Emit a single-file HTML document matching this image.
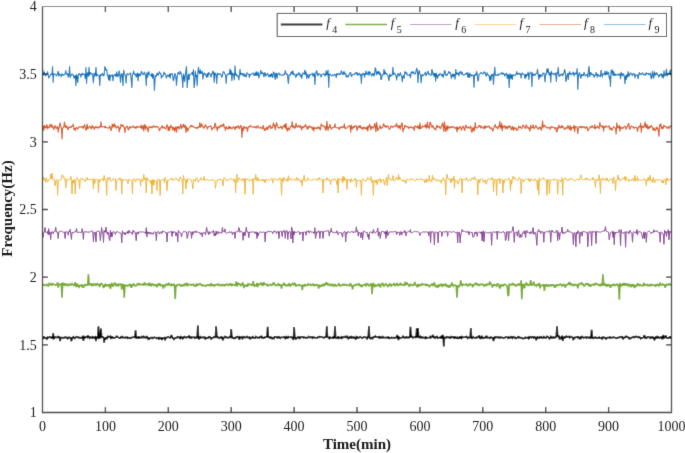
<!DOCTYPE html>
<html><head><meta charset="utf-8"><style>
html,body{margin:0;padding:0;background:#fff;}
body{width:685px;height:453px;overflow:hidden;position:relative;}
svg{position:absolute;left:0;top:0;}
text{font-family:"Liberation Serif",serif;font-size:14px;fill:#262626;}
.it{font-style:italic;font-size:13px;}
.sub{font-size:10px;}
.b{font-weight:bold;font-size:15px;fill:#1a1a1a;}
</style></head><body>
<svg width="685" height="453" viewBox="0 0 685 453">
<defs><filter id="bl" x="0" y="0" width="685" height="453" filterUnits="userSpaceOnUse"><feConvolveMatrix order="3" kernelMatrix="1 8 1 8 64 8 1 8 1" edgeMode="duplicate"/></filter>
<filter id="bt" x="0" y="0" width="685" height="453" filterUnits="userSpaceOnUse"><feConvolveMatrix order="3" kernelMatrix="1 10 1 10 100 10 1 10 1" edgeMode="none"/></filter></defs>
<g filter="url(#bl)">
<rect width="685" height="453" fill="#fff"/>
<g>
<path d="M42.50,338.17 43.13,338.45 43.76,336.37 44.39,337.34 45.02,338.06 45.65,338.25 46.27,337.98 46.90,338.82 47.53,337.35 48.16,337.79 48.79,337.55 49.42,336.94 50.05,337.05 50.68,337.60 51.31,337.32 51.94,338.15 52.56,338.30 53.19,333.20 53.82,338.54 54.45,338.11 55.08,337.10 55.71,337.50 56.34,337.51 56.97,337.53 57.60,336.65 58.23,336.59 58.85,337.51 59.48,337.18 60.11,341.20 60.74,337.78 61.37,337.68 62.00,337.67 62.63,337.81 63.26,337.74 63.89,337.98 64.52,337.30 65.14,337.32 65.77,337.20 66.40,337.75 67.03,337.50 67.66,338.62 68.29,338.39 68.92,337.44 69.55,337.45 70.18,337.79 70.81,338.35 71.43,341.20 72.06,337.83 72.69,337.50 73.32,336.85 73.95,337.85 74.58,338.85 75.21,337.45 75.84,337.39 76.47,336.71 77.09,336.75 77.72,337.26 78.35,337.75 78.98,337.33 79.61,337.67 80.24,337.99 80.87,337.64 81.50,337.87 82.13,338.15 82.76,335.74 83.38,341.00 84.01,336.67 84.64,336.63 85.27,337.59 85.90,337.19 86.53,336.95 87.16,337.38 87.79,335.31 88.42,337.77 89.05,337.10 89.67,338.09 90.30,337.02 90.93,337.27 91.56,337.37 92.19,338.00 92.82,336.83 93.45,337.28 94.08,338.00 94.71,337.18 95.34,336.88 95.97,341.00 96.59,337.43 97.22,337.83 97.85,337.12 98.48,326.20 99.11,338.23 99.74,337.97 100.37,337.12 101.00,328.60 101.63,337.06 102.25,336.66 102.88,336.96 103.51,337.46 104.14,342.60 104.77,337.72 105.40,339.82 106.03,337.67 106.66,337.51 107.29,338.22 107.92,336.44 108.55,336.50 109.17,337.19 109.80,336.71 110.43,336.15 111.06,338.27 111.69,337.76 112.32,336.33 112.95,337.89 113.58,337.92 114.21,338.14 114.83,337.70 115.46,337.47 116.09,336.98 116.72,335.79 117.35,337.21 117.98,337.27 118.61,337.42 119.24,338.03 119.87,338.03 120.50,338.05 121.12,336.69 121.75,336.55 122.38,337.55 123.01,337.27 123.64,337.67 124.27,337.68 124.90,337.66 125.53,337.13 126.16,337.85 126.79,337.71 127.42,337.20 128.04,338.28 128.67,337.73 129.30,338.06 129.93,337.80 130.56,338.32 131.19,337.66 131.82,337.62 132.45,337.54 133.08,337.13 133.70,337.17 134.33,337.39 134.96,337.38 135.59,330.20 136.22,338.51 136.85,337.75 137.48,337.44 138.11,338.62 138.74,336.33 139.37,337.87 140.00,337.85 140.62,337.35 141.25,337.55 141.88,336.67 142.51,337.43 143.14,337.57 143.77,336.50 144.40,337.40 145.03,337.25 145.66,337.90 146.28,337.59 146.91,336.01 147.54,337.25 148.17,338.92 148.80,338.33 149.43,338.89 150.06,337.87 150.69,337.63 151.32,337.85 151.95,337.61 152.57,338.88 153.20,337.77 153.83,337.53 154.46,337.18 155.09,337.64 155.72,338.00 156.35,337.74 156.98,338.34 157.61,337.98 158.24,337.66 158.87,339.41 159.49,337.19 160.12,338.17 160.75,338.51 161.38,337.55 162.01,339.98 162.64,338.09 163.27,338.33 163.90,338.03 164.53,337.77 165.16,340.32 165.78,337.68 166.41,337.48 167.04,337.41 167.67,337.46 168.30,336.87 168.93,337.18 169.56,337.42 170.19,337.79 170.82,336.85 171.44,334.96 172.07,336.89 172.70,338.18 173.33,338.35 173.96,339.30 174.59,338.42 175.22,338.15 175.85,337.95 176.48,337.39 177.11,337.60 177.74,336.88 178.36,337.31 178.99,337.04 179.62,338.14 180.25,338.52 180.88,336.90 181.51,337.58 182.14,337.50 182.77,339.16 183.40,337.30 184.03,337.58 184.65,336.81 185.28,337.33 185.91,337.70 186.54,337.73 187.17,336.82 187.80,336.92 188.43,337.15 189.06,335.55 189.69,337.78 190.31,337.44 190.94,337.01 191.57,337.99 192.20,337.58 192.83,337.28 193.46,337.08 194.09,337.24 194.72,338.28 195.35,338.04 195.98,337.28 196.60,336.97 197.23,338.28 197.86,325.50 198.49,338.22 199.12,339.34 199.75,337.49 200.38,336.80 201.01,337.68 201.64,337.41 202.27,337.57 202.90,337.22 203.52,337.19 204.15,337.70 204.78,337.34 205.41,339.59 206.04,337.64 206.67,337.70 207.30,338.15 207.93,338.14 208.56,336.91 209.19,337.25 209.81,336.87 210.44,337.76 211.07,339.58 211.70,337.85 212.33,337.94 212.96,337.76 213.59,337.05 214.22,337.27 214.85,336.99 215.47,337.68 216.10,326.20 216.73,336.03 217.36,337.44 217.99,337.34 218.62,337.32 219.25,338.17 219.88,337.53 220.51,337.54 221.14,337.07 221.77,338.18 222.39,337.72 223.02,340.38 223.65,337.46 224.28,337.39 224.91,336.53 225.54,336.81 226.17,337.62 226.80,337.31 227.43,337.69 228.06,337.68 228.68,337.69 229.31,337.14 229.94,337.47 230.57,336.68 231.20,329.00 231.83,338.19 232.46,337.17 233.09,338.19 233.72,338.49 234.34,337.33 234.97,338.83 235.60,336.89 236.23,337.65 236.86,337.55 237.49,336.65 238.12,337.21 238.75,337.21 239.38,339.70 240.01,336.98 240.63,337.39 241.26,337.23 241.89,338.06 242.52,338.72 243.15,336.79 243.78,337.11 244.41,337.02 245.04,337.71 245.67,337.41 246.30,337.37 246.93,336.48 247.55,336.77 248.18,337.78 248.81,337.54 249.44,337.28 250.07,338.57 250.70,337.65 251.33,338.15 251.96,337.86 252.59,336.24 253.22,337.45 253.84,337.93 254.47,338.14 255.10,338.02 255.73,336.60 256.36,337.16 256.99,337.35 257.62,337.79 258.25,337.67 258.88,337.47 259.50,337.83 260.13,337.00 260.76,337.11 261.39,335.81 262.02,337.79 262.65,337.45 263.28,338.10 263.91,338.03 264.54,337.07 265.17,337.43 265.79,337.02 266.42,336.90 267.05,336.84 267.68,326.70 268.31,336.98 268.94,336.85 269.57,338.00 270.20,338.01 270.83,337.14 271.46,337.86 272.09,338.63 272.71,337.80 273.34,337.66 273.97,338.42 274.60,336.99 275.23,336.75 275.86,336.74 276.49,337.43 277.12,337.86 277.75,337.06 278.38,336.80 279.00,338.23 279.63,337.38 280.26,338.15 280.89,337.48 281.52,337.42 282.15,337.47 282.78,337.48 283.41,337.00 284.04,337.02 284.66,336.43 285.29,339.17 285.92,338.15 286.55,336.81 287.18,337.52 287.81,338.01 288.44,336.79 289.07,337.18 289.70,337.25 290.33,337.02 290.96,337.14 291.58,337.72 292.21,337.36 292.84,337.50 293.47,340.11 294.10,327.00 294.73,336.89 295.36,337.85 295.99,339.45 296.62,337.77 297.25,337.62 297.87,336.88 298.50,337.49 299.13,338.26 299.76,337.21 300.39,337.94 301.02,337.19 301.65,336.86 302.28,336.88 302.91,336.94 303.54,337.70 304.16,337.15 304.79,337.28 305.42,337.86 306.05,337.88 306.68,337.61 307.31,337.74 307.94,337.42 308.57,336.57 309.20,337.33 309.82,337.27 310.45,337.32 311.08,336.95 311.71,337.32 312.34,338.05 312.97,336.69 313.60,337.59 314.23,337.66 314.86,337.48 315.49,337.75 316.12,337.94 316.74,337.81 317.37,337.90 318.00,336.98 318.63,337.15 319.26,337.35 319.89,336.54 320.52,336.90 321.15,336.84 321.78,337.04 322.41,337.05 323.03,337.43 323.66,337.80 324.29,337.91 324.92,337.02 325.55,336.97 326.18,337.40 326.81,326.20 327.44,337.09 328.07,337.33 328.69,337.88 329.32,338.57 329.95,337.11 330.58,337.42 331.21,338.02 331.84,337.86 332.47,337.74 333.10,336.67 333.73,338.10 334.36,337.81 334.99,326.20 335.61,337.42 336.24,338.15 336.87,337.86 337.50,337.90 338.13,336.39 338.76,338.19 339.39,337.53 340.02,337.95 340.65,338.07 341.27,337.14 341.90,338.08 342.53,337.10 343.16,337.08 343.79,337.44 344.42,336.72 345.05,336.54 345.68,337.31 346.31,337.27 346.94,336.48 347.56,337.86 348.19,338.59 348.82,337.58 349.45,338.66 350.08,336.96 350.71,337.30 351.34,336.09 351.97,337.85 352.60,337.55 353.23,337.86 353.86,337.14 354.48,337.63 355.11,337.90 355.74,339.67 356.37,336.61 357.00,336.89 357.63,337.84 358.26,337.64 358.89,337.81 359.52,337.08 360.14,336.71 360.77,337.36 361.40,337.54 362.03,338.09 362.66,338.14 363.29,337.29 363.92,337.15 364.55,337.08 365.18,337.16 365.81,337.24 366.44,338.17 367.06,338.69 367.69,336.86 368.32,336.86 368.95,326.20 369.58,338.69 370.21,337.93 370.84,338.57 371.47,337.68 372.10,337.54 372.73,338.41 373.35,337.39 373.98,336.92 374.61,337.08 375.24,336.23 375.87,337.02 376.50,336.95 377.13,336.93 377.76,336.81 378.39,337.38 379.01,336.82 379.64,338.31 380.27,336.21 380.90,337.68 381.53,337.45 382.16,337.67 382.79,336.77 383.42,337.61 384.05,337.60 384.68,337.60 385.31,337.62 385.93,337.64 386.56,337.45 387.19,337.48 387.82,337.90 388.45,336.72 389.08,337.86 389.71,338.32 390.34,337.85 390.97,338.01 391.60,337.39 392.22,337.64 392.85,337.78 393.48,337.68 394.11,337.83 394.74,338.19 395.37,337.40 396.00,337.18 396.63,337.53 397.26,334.99 397.88,337.48 398.51,340.03 399.14,337.29 399.77,337.79 400.40,337.79 401.03,338.13 401.66,337.83 402.29,337.43 402.92,335.88 403.55,337.09 404.18,337.80 404.80,337.42 405.43,337.18 406.06,337.83 406.69,337.10 407.32,337.31 407.95,337.76 408.58,337.29 409.21,337.53 409.84,337.41 410.46,326.70 411.09,337.13 411.72,335.71 412.35,337.20 412.98,337.95 413.61,337.46 414.24,336.90 414.87,336.74 415.50,337.30 416.13,338.05 416.75,328.00 417.38,337.83 418.01,328.00 418.64,337.18 419.27,336.98 419.90,338.24 420.53,336.72 421.16,337.51 421.79,336.93 422.42,337.78 423.05,337.32 423.67,337.46 424.30,337.90 424.93,338.27 425.56,336.40 426.19,338.21 426.82,337.74 427.45,337.86 428.08,337.72 428.71,337.56 429.33,337.33 429.96,337.72 430.59,336.57 431.22,337.53 431.85,337.37 432.48,335.92 433.11,334.86 433.74,337.51 434.37,337.55 435.00,337.93 435.62,336.40 436.25,337.50 436.88,336.02 437.51,338.19 438.14,337.86 438.77,337.53 439.40,337.51 440.03,337.83 440.66,336.78 441.29,336.36 441.92,338.66 442.54,335.58 443.17,335.56 443.80,346.50 444.43,337.77 445.06,337.33 445.69,337.70 446.32,337.59 446.95,336.94 447.58,337.36 448.20,337.56 448.83,337.10 449.46,337.92 450.09,337.45 450.72,337.94 451.35,336.60 451.98,336.79 452.61,336.80 453.24,337.68 453.87,338.07 454.50,336.15 455.12,338.32 455.75,337.41 456.38,337.86 457.01,337.38 457.64,338.80 458.27,337.70 458.90,337.71 459.53,338.04 460.16,336.34 460.79,337.96 461.41,338.43 462.04,336.69 462.67,337.20 463.30,337.38 463.93,337.28 464.56,337.06 465.19,337.30 465.82,337.21 466.45,336.60 467.07,337.36 467.70,338.31 468.33,337.42 468.96,337.73 469.59,337.76 470.22,337.64 470.85,328.00 471.48,337.42 472.11,338.28 472.74,337.94 473.37,336.90 473.99,337.37 474.62,337.75 475.25,338.11 475.88,337.86 476.51,337.12 477.14,337.68 477.77,337.19 478.40,337.05 479.03,335.16 479.66,338.22 480.28,338.46 480.91,337.65 481.54,335.73 482.17,338.04 482.80,337.49 483.43,338.23 484.06,338.04 484.69,337.46 485.32,337.63 485.94,336.62 486.57,337.56 487.20,336.68 487.83,337.62 488.46,337.70 489.09,337.89 489.72,338.31 490.35,337.19 490.98,337.62 491.61,337.39 492.24,337.87 492.86,337.71 493.49,341.00 494.12,338.40 494.75,337.16 495.38,337.59 496.01,336.87 496.64,337.35 497.27,337.33 497.90,337.63 498.52,337.00 499.15,337.65 499.78,337.48 500.41,337.94 501.04,337.27 501.67,337.46 502.30,337.55 502.93,337.73 503.56,338.15 504.19,337.66 504.81,337.72 505.44,337.47 506.07,336.92 506.70,337.25 507.33,337.24 507.96,338.12 508.59,337.19 509.22,337.92 509.85,337.40 510.48,337.72 511.11,336.70 511.73,337.20 512.36,338.10 512.99,337.00 513.62,336.72 514.25,337.49 514.88,337.90 515.51,337.56 516.14,338.76 516.77,337.68 517.39,337.40 518.02,336.82 518.65,338.03 519.28,336.69 519.91,337.67 520.54,337.93 521.17,337.74 521.80,337.96 522.43,338.37 523.06,338.63 523.68,338.41 524.31,338.48 524.94,338.06 525.57,336.86 526.20,337.90 526.83,337.98 527.46,337.99 528.09,337.25 528.72,338.69 529.35,338.25 529.98,336.72 530.60,336.89 531.23,337.56 531.86,337.06 532.49,336.69 533.12,337.24 533.75,338.53 534.38,336.94 535.01,337.29 535.64,337.65 536.26,340.35 536.89,337.32 537.52,337.04 538.15,337.90 538.78,337.52 539.41,338.05 540.04,337.02 540.67,337.44 541.30,336.88 541.93,337.55 542.56,338.63 543.18,337.35 543.81,336.55 544.44,336.98 545.07,337.87 545.70,337.99 546.33,337.78 546.96,336.39 547.59,336.77 548.22,337.15 548.85,337.70 549.47,338.68 550.10,337.79 550.73,336.40 551.36,337.05 551.99,338.08 552.62,338.01 553.25,336.99 553.88,337.57 554.51,337.93 555.13,337.15 555.76,337.32 556.39,335.41 557.02,326.20 557.65,336.90 558.28,336.42 558.91,335.57 559.54,339.36 560.17,338.11 560.80,338.82 561.42,336.88 562.05,336.42 562.68,341.00 563.31,337.50 563.94,337.18 564.57,338.41 565.20,337.03 565.83,336.48 566.46,336.18 567.09,337.18 567.72,337.18 568.34,336.75 568.97,336.49 569.60,337.59 570.23,336.63 570.86,337.09 571.49,336.69 572.12,337.23 572.75,338.06 573.38,340.13 574.00,337.08 574.63,337.89 575.26,337.81 575.89,337.24 576.52,336.89 577.15,336.83 577.78,337.54 578.41,336.97 579.04,337.69 579.67,339.19 580.29,337.51 580.92,338.17 581.55,336.76 582.18,336.53 582.81,337.03 583.44,337.96 584.07,337.76 584.70,337.44 585.33,337.14 585.96,337.05 586.59,337.97 587.21,337.22 587.84,337.16 588.47,337.67 589.10,337.80 589.73,337.41 590.36,338.17 590.99,337.84 591.62,329.90 592.25,336.43 592.88,338.88 593.50,337.49 594.13,337.65 594.76,337.80 595.39,337.14 596.02,337.71 596.65,338.05 597.28,337.68 597.91,338.21 598.54,337.57 599.16,337.15 599.79,338.10 600.42,338.09 601.05,337.93 601.68,337.57 602.31,339.55 602.94,337.32 603.57,337.09 604.20,337.37 604.83,337.63 605.46,337.89 606.08,339.39 606.71,337.97 607.34,337.65 607.97,337.38 608.60,337.80 609.23,337.88 609.86,337.19 610.49,337.20 611.12,338.06 611.75,337.93 612.37,337.75 613.00,337.22 613.63,337.03 614.26,337.46 614.89,337.69 615.52,337.82 616.15,337.96 616.78,338.32 617.41,338.09 618.03,337.44 618.66,337.66 619.29,337.46 619.92,336.75 620.55,336.75 621.18,337.19 621.81,336.27 622.44,337.75 623.07,338.70 623.70,337.55 624.33,337.37 624.95,337.56 625.58,336.93 626.21,335.83 626.84,337.14 627.47,337.43 628.10,337.14 628.73,337.37 629.36,338.71 629.99,338.28 630.62,338.58 631.24,337.98 631.87,337.37 632.50,337.10 633.13,337.32 633.76,336.66 634.39,337.40 635.02,337.15 635.65,336.64 636.28,336.49 636.90,336.92 637.53,337.24 638.16,336.83 638.79,337.33 639.42,336.85 640.05,337.76 640.68,338.58 641.31,337.85 641.94,337.91 642.57,337.91 643.20,337.40 643.82,336.78 644.45,335.08 645.08,337.78 645.71,337.50 646.34,338.18 646.97,337.59 647.60,336.93 648.23,336.88 648.86,336.98 649.49,337.71 650.11,337.28 650.74,338.01 651.37,337.13 652.00,337.14 652.63,338.26 653.26,336.77 653.89,338.67 654.52,340.25 655.15,337.75 655.77,337.12 656.40,338.43 657.03,336.61 657.66,336.61 658.29,337.79 658.92,337.33 659.55,337.98 660.18,337.81 660.81,337.07 661.44,337.09 662.07,339.32 662.69,337.24 663.32,335.00 663.95,338.13 664.58,337.69 665.21,337.16 665.84,335.48 666.47,337.81 667.10,338.17 667.73,338.05 668.36,338.08 668.98,337.54 669.61,337.68 670.24,336.33 670.87,337.82 671.50,337.54" fill="none" stroke="#000000" stroke-width="1.7" stroke-linejoin="miter" stroke-miterlimit="2"/><path d="M42.50,284.71 43.13,284.49 43.76,284.67 44.39,285.24 45.02,285.45 45.65,285.02 46.27,284.49 46.90,284.41 47.53,285.45 48.16,286.03 48.79,285.47 49.42,282.82 50.05,284.32 50.68,284.59 51.31,285.02 51.94,283.80 52.56,284.61 53.19,284.10 53.82,284.37 54.45,284.48 55.08,284.68 55.71,285.19 56.34,284.86 56.97,284.55 57.60,282.18 58.23,287.53 58.85,285.29 59.48,284.53 60.11,284.24 60.74,284.30 61.37,284.06 62.00,297.70 62.63,282.47 63.26,284.62 63.89,284.17 64.52,285.85 65.14,284.06 65.77,283.96 66.40,284.85 67.03,285.29 67.66,284.65 68.29,285.29 68.92,283.70 69.55,285.43 70.18,283.78 70.81,285.02 71.43,284.77 72.06,283.61 72.69,284.60 73.32,284.79 73.95,285.40 74.58,284.58 75.21,282.19 75.84,286.03 76.47,286.43 77.09,283.64 77.72,284.68 78.35,286.56 78.98,287.17 79.61,285.57 80.24,285.56 80.87,285.46 81.50,284.57 82.13,286.37 82.76,285.73 83.38,287.77 84.01,285.66 84.64,284.95 85.27,285.26 85.90,284.70 86.53,285.19 87.16,285.05 87.79,284.92 88.42,274.30 89.05,285.30 89.67,284.04 90.30,283.92 90.93,284.06 91.56,285.39 92.19,284.67 92.82,284.16 93.45,285.88 94.08,284.38 94.71,284.16 95.34,284.05 95.97,285.10 96.59,284.16 97.22,283.77 97.85,284.83 98.48,284.61 99.11,284.94 99.74,287.09 100.37,283.78 101.00,283.91 101.63,283.61 102.25,284.59 102.88,285.33 103.51,287.93 104.14,286.64 104.77,284.50 105.40,284.37 106.03,286.43 106.66,284.93 107.29,284.68 107.92,285.09 108.55,286.06 109.17,285.23 109.80,284.07 110.43,288.91 111.06,285.19 111.69,283.06 112.32,285.41 112.95,286.69 113.58,284.46 114.21,284.37 114.83,282.44 115.46,284.94 116.09,285.56 116.72,283.95 117.35,285.29 117.98,285.82 118.61,284.29 119.24,284.94 119.87,284.64 120.50,284.12 121.12,284.16 121.75,289.50 122.38,285.75 123.01,284.60 123.64,284.95 124.27,297.70 124.90,285.22 125.53,285.52 126.16,285.30 126.79,285.40 127.42,286.16 128.04,285.70 128.67,285.09 129.30,285.29 129.93,284.34 130.56,284.67 131.19,287.85 131.82,285.49 132.45,285.94 133.08,284.56 133.70,283.93 134.33,284.92 134.96,285.67 135.59,285.81 136.22,285.70 136.85,284.89 137.48,283.71 138.11,284.44 138.74,284.67 139.37,283.22 140.00,284.50 140.62,284.65 141.25,284.58 141.88,284.56 142.51,284.30 143.14,284.67 143.77,285.66 144.40,282.33 145.03,284.26 145.66,284.10 146.28,284.83 146.91,284.41 147.54,284.31 148.17,283.93 148.80,286.13 149.43,282.56 150.06,284.42 150.69,285.51 151.32,285.64 151.95,283.43 152.57,284.33 153.20,284.66 153.83,285.49 154.46,284.86 155.09,284.74 155.72,284.99 156.35,286.25 156.98,286.96 157.61,284.34 158.24,284.48 158.87,285.70 159.49,283.12 160.12,284.41 160.75,285.61 161.38,285.29 162.01,285.63 162.64,285.16 163.27,288.50 163.90,285.17 164.53,285.25 165.16,286.12 165.78,284.93 166.41,283.96 167.04,284.24 167.67,285.70 168.30,284.50 168.93,283.46 169.56,284.36 170.19,285.22 170.82,285.58 171.44,284.40 172.07,285.31 172.70,285.26 173.33,284.50 173.96,284.28 174.59,286.16 175.22,298.90 175.85,285.61 176.48,285.27 177.11,285.64 177.74,284.89 178.36,284.76 178.99,284.34 179.62,284.83 180.25,285.07 180.88,286.43 181.51,285.10 182.14,285.80 182.77,285.83 183.40,284.98 184.03,285.46 184.65,283.61 185.28,284.86 185.91,285.26 186.54,282.75 187.17,284.05 187.80,285.46 188.43,284.73 189.06,284.31 189.69,284.53 190.31,284.58 190.94,285.36 191.57,285.23 192.20,284.63 192.83,284.45 193.46,284.31 194.09,285.77 194.72,285.28 195.35,285.32 195.98,286.59 196.60,284.00 197.23,284.39 197.86,285.27 198.49,284.95 199.12,284.20 199.75,283.80 200.38,284.00 201.01,284.72 201.64,284.62 202.27,285.64 202.90,285.08 203.52,285.19 204.15,285.61 204.78,285.68 205.41,285.89 206.04,286.19 206.67,285.11 207.30,284.88 207.93,285.19 208.56,284.78 209.19,285.32 209.81,285.68 210.44,284.30 211.07,283.80 211.70,285.52 212.33,285.06 212.96,285.25 213.59,284.24 214.22,285.96 214.85,285.50 215.47,284.85 216.10,284.67 216.73,284.93 217.36,284.78 217.99,284.04 218.62,284.26 219.25,285.62 219.88,284.98 220.51,284.95 221.14,284.78 221.77,285.62 222.39,285.02 223.02,284.71 223.65,284.79 224.28,286.01 224.91,284.35 225.54,285.31 226.17,284.45 226.80,284.20 227.43,284.29 228.06,284.99 228.68,285.34 229.31,284.46 229.94,283.97 230.57,285.37 231.20,284.38 231.83,285.58 232.46,284.90 233.09,284.40 233.72,284.47 234.34,285.22 234.97,285.49 235.60,284.92 236.23,281.50 236.86,286.29 237.49,284.84 238.12,283.27 238.75,284.02 239.38,283.87 240.01,284.32 240.63,286.10 241.26,284.04 241.89,284.92 242.52,283.17 243.15,283.58 243.78,288.09 244.41,285.77 245.04,285.35 245.67,285.38 246.30,286.11 246.93,285.39 247.55,286.71 248.18,284.11 248.81,284.70 249.44,284.37 250.07,284.33 250.70,284.38 251.33,285.13 251.96,284.76 252.59,285.93 253.22,281.11 253.84,284.83 254.47,286.08 255.10,285.17 255.73,285.76 256.36,285.83 256.99,282.89 257.62,287.10 258.25,283.62 258.88,284.59 259.50,284.51 260.13,283.84 260.76,284.38 261.39,282.42 262.02,283.75 262.65,285.80 263.28,284.83 263.91,282.20 264.54,284.19 265.17,284.45 265.79,284.57 266.42,284.44 267.05,284.18 267.68,286.28 268.31,285.15 268.94,285.29 269.57,285.12 270.20,284.45 270.83,284.49 271.46,285.11 272.09,284.81 272.71,284.66 273.34,283.09 273.97,283.00 274.60,284.27 275.23,285.25 275.86,285.00 276.49,285.49 277.12,285.10 277.75,284.81 278.38,284.06 279.00,285.30 279.63,284.62 280.26,284.88 280.89,285.09 281.52,288.50 282.15,285.03 282.78,284.63 283.41,284.54 284.04,282.77 284.66,284.72 285.29,285.91 285.92,284.90 286.55,285.70 287.18,285.58 287.81,284.68 288.44,286.08 289.07,283.27 289.70,285.18 290.33,285.89 290.96,284.58 291.58,284.76 292.21,284.48 292.84,283.48 293.47,284.36 294.10,285.18 294.73,283.42 295.36,284.03 295.99,286.00 296.62,285.71 297.25,285.35 297.87,285.25 298.50,284.70 299.13,285.33 299.76,285.42 300.39,285.16 301.02,285.59 301.65,285.07 302.28,290.20 302.91,284.83 303.54,285.71 304.16,285.88 304.79,284.67 305.42,284.67 306.05,285.72 306.68,285.52 307.31,285.30 307.94,284.09 308.57,284.51 309.20,284.56 309.82,284.86 310.45,283.94 311.08,285.29 311.71,285.23 312.34,285.11 312.97,284.17 313.60,284.90 314.23,285.63 314.86,284.81 315.49,285.03 316.12,285.32 316.74,284.58 317.37,285.34 318.00,285.67 318.63,288.50 319.26,285.35 319.89,285.25 320.52,286.27 321.15,285.70 321.78,286.06 322.41,284.75 323.03,284.46 323.66,285.46 324.29,285.57 324.92,283.53 325.55,285.19 326.18,282.11 326.81,284.86 327.44,282.69 328.07,284.99 328.69,284.56 329.32,284.46 329.95,285.03 330.58,285.99 331.21,284.35 331.84,284.52 332.47,285.50 333.10,284.86 333.73,286.02 334.36,285.19 334.99,284.12 335.61,285.27 336.24,286.10 336.87,285.60 337.50,285.30 338.13,284.98 338.76,283.85 339.39,284.33 340.02,285.84 340.65,285.59 341.27,285.34 341.90,285.30 342.53,284.63 343.16,285.00 343.79,284.38 344.42,285.02 345.05,284.46 345.68,284.74 346.31,285.15 346.94,284.78 347.56,285.32 348.19,285.27 348.82,285.27 349.45,285.66 350.08,283.93 350.71,283.81 351.34,285.66 351.97,285.71 352.60,289.32 353.23,285.61 353.86,285.42 354.48,285.34 355.11,284.90 355.74,285.16 356.37,284.21 357.00,284.23 357.63,284.78 358.26,284.88 358.89,283.96 359.52,284.73 360.14,286.26 360.77,284.34 361.40,287.16 362.03,285.13 362.66,285.86 363.29,285.07 363.92,284.70 364.55,284.29 365.18,285.08 365.81,285.75 366.44,283.95 367.06,283.59 367.69,283.87 368.32,286.01 368.95,284.89 369.58,286.10 370.21,284.32 370.84,284.07 371.47,283.54 372.10,294.20 372.73,284.90 373.35,283.57 373.98,284.33 374.61,287.33 375.24,285.07 375.87,284.90 376.50,285.63 377.13,285.95 377.76,285.80 378.39,283.72 379.01,284.78 379.64,284.54 380.27,287.40 380.90,285.80 381.53,284.78 382.16,283.49 382.79,283.61 383.42,285.25 384.05,286.56 384.68,284.70 385.31,284.47 385.93,283.79 386.56,284.60 387.19,285.72 387.82,286.98 388.45,285.05 389.08,284.77 389.71,284.02 390.34,285.73 390.97,286.04 391.60,284.67 392.22,285.04 392.85,284.94 393.48,284.34 394.11,283.23 394.74,284.51 395.37,286.16 396.00,283.96 396.63,284.81 397.26,282.83 397.88,285.50 398.51,285.33 399.14,284.95 399.77,284.68 400.40,282.79 401.03,284.77 401.66,284.68 402.29,284.71 402.92,284.87 403.55,285.10 404.18,285.79 404.80,282.85 405.43,281.90 406.06,284.43 406.69,283.93 407.32,283.34 407.95,285.02 408.58,284.25 409.21,286.92 409.84,285.05 410.46,284.20 411.09,284.82 411.72,284.91 412.35,285.48 412.98,285.53 413.61,284.49 414.24,284.40 414.87,281.91 415.50,284.95 416.13,285.42 416.75,285.27 417.38,287.20 418.01,285.06 418.64,285.64 419.27,284.16 419.90,286.11 420.53,284.60 421.16,285.62 421.79,283.57 422.42,284.37 423.05,284.09 423.67,284.45 424.30,284.75 424.93,284.44 425.56,284.26 426.19,285.81 426.82,284.10 427.45,285.32 428.08,285.10 428.71,285.26 429.33,286.58 429.96,285.89 430.59,285.39 431.22,284.86 431.85,283.59 432.48,285.16 433.11,284.50 433.74,284.96 434.37,282.49 435.00,285.68 435.62,286.36 436.25,287.30 436.88,285.77 437.51,284.89 438.14,286.99 438.77,286.44 439.40,284.20 440.03,286.03 440.66,284.50 441.29,284.16 441.92,286.01 442.54,286.33 443.17,284.57 443.80,284.66 444.43,285.37 445.06,285.06 445.69,283.59 446.32,286.03 446.95,286.19 447.58,285.54 448.20,286.65 448.83,286.40 449.46,287.76 450.09,284.61 450.72,285.64 451.35,284.97 451.98,282.51 452.61,284.92 453.24,286.06 453.87,285.39 454.50,284.99 455.12,285.01 455.75,285.45 456.38,286.87 457.01,297.70 457.64,285.09 458.27,286.07 458.90,287.15 459.53,285.94 460.16,284.24 460.79,280.48 461.41,284.36 462.04,286.03 462.67,284.92 463.30,284.30 463.93,284.45 464.56,284.77 465.19,284.79 465.82,284.60 466.45,283.99 467.07,285.37 467.70,285.89 468.33,285.71 468.96,284.60 469.59,285.50 470.22,284.01 470.85,284.65 471.48,284.62 472.11,284.72 472.74,287.33 473.37,284.30 473.99,284.93 474.62,284.03 475.25,283.53 475.88,283.23 476.51,285.08 477.14,283.88 477.77,284.00 478.40,285.43 479.03,285.46 479.66,284.81 480.28,284.54 480.91,284.86 481.54,284.42 482.17,284.02 482.80,284.56 483.43,284.57 484.06,286.02 484.69,285.34 485.32,284.69 485.94,285.24 486.57,285.61 487.20,284.04 487.83,284.32 488.46,284.17 489.09,284.95 489.72,282.26 490.35,282.55 490.98,284.39 491.61,284.60 492.24,287.42 492.86,285.72 493.49,285.46 494.12,284.12 494.75,285.22 495.38,285.15 496.01,285.58 496.64,286.09 497.27,283.38 497.90,284.26 498.52,284.32 499.15,285.72 499.78,288.50 500.41,287.21 501.04,284.83 501.67,284.88 502.30,285.16 502.93,285.99 503.56,285.20 504.19,284.27 504.81,284.62 505.44,284.63 506.07,285.11 506.70,285.79 507.33,286.33 507.96,296.00 508.59,295.40 509.22,283.74 509.85,284.96 510.48,284.71 511.11,284.74 511.73,284.88 512.36,283.55 512.99,283.71 513.62,285.22 514.25,284.36 514.88,285.17 515.51,284.84 516.14,286.09 516.77,285.43 517.39,285.00 518.02,284.46 518.65,283.55 519.28,285.43 519.91,284.66 520.54,285.23 521.17,280.40 521.80,299.20 522.43,286.10 523.06,283.92 523.68,284.71 524.31,288.25 524.94,285.60 525.57,284.10 526.20,283.06 526.83,283.59 527.46,285.66 528.09,284.89 528.72,285.17 529.35,285.17 529.98,285.06 530.60,280.16 531.23,283.67 531.86,284.91 532.49,284.37 533.12,284.07 533.75,281.77 534.38,285.18 535.01,285.06 535.64,285.09 536.26,285.99 536.89,284.77 537.52,284.62 538.15,285.66 538.78,284.23 539.41,283.09 540.04,288.29 540.67,285.34 541.30,285.44 541.93,285.50 542.56,285.57 543.18,284.74 543.81,284.81 544.44,291.00 545.07,285.00 545.70,285.11 546.33,284.77 546.96,285.77 547.59,286.84 548.22,284.56 548.85,285.60 549.47,285.75 550.10,285.69 550.73,284.40 551.36,285.75 551.99,285.51 552.62,284.79 553.25,285.14 553.88,285.21 554.51,287.60 555.13,285.84 555.76,286.52 556.39,285.02 557.02,285.35 557.65,284.86 558.28,285.50 558.91,285.12 559.54,284.55 560.17,284.07 560.80,284.45 561.42,285.24 562.05,286.05 562.68,285.54 563.31,284.31 563.94,284.62 564.57,284.99 565.20,287.48 565.83,284.36 566.46,285.51 567.09,284.62 567.72,284.39 568.34,283.65 568.97,284.45 569.60,282.01 570.23,284.73 570.86,285.02 571.49,284.09 572.12,284.70 572.75,284.83 573.38,286.13 574.00,285.19 574.63,283.75 575.26,285.05 575.89,285.16 576.52,284.75 577.15,285.13 577.78,288.27 578.41,285.37 579.04,283.92 579.67,284.23 580.29,284.04 580.92,283.72 581.55,282.21 582.18,284.28 582.81,284.08 583.44,284.68 584.07,286.42 584.70,285.27 585.33,285.02 585.96,283.17 586.59,284.03 587.21,284.30 587.84,283.35 588.47,285.16 589.10,284.59 589.73,284.81 590.36,286.84 590.99,285.23 591.62,284.92 592.25,285.01 592.88,284.59 593.50,284.23 594.13,284.69 594.76,285.49 595.39,283.06 596.02,283.80 596.65,283.81 597.28,284.05 597.91,284.77 598.54,284.65 599.16,285.25 599.79,285.60 600.42,283.77 601.05,285.37 601.68,285.16 602.31,285.17 602.94,274.40 603.57,284.75 604.20,284.94 604.83,284.07 605.46,285.24 606.08,284.82 606.71,285.98 607.34,285.04 607.97,286.25 608.60,284.86 609.23,284.76 609.86,285.97 610.49,287.69 611.12,285.46 611.75,284.69 612.37,284.99 613.00,285.50 613.63,284.40 614.26,284.39 614.89,285.43 615.52,285.41 616.15,284.78 616.78,284.55 617.41,283.72 618.03,285.48 618.66,284.80 619.29,299.70 619.92,283.99 620.55,284.37 621.18,286.42 621.81,285.37 622.44,284.24 623.07,283.08 623.70,285.82 624.33,284.05 624.95,283.19 625.58,285.80 626.21,284.03 626.84,284.72 627.47,284.33 628.10,285.78 628.73,286.19 629.36,283.81 629.99,284.89 630.62,285.11 631.24,287.27 631.87,284.04 632.50,285.54 633.13,284.82 633.76,285.05 634.39,288.08 635.02,285.58 635.65,285.89 636.28,286.79 636.90,284.78 637.53,283.97 638.16,284.87 638.79,284.57 639.42,285.35 640.05,284.48 640.68,285.01 641.31,285.61 641.94,285.66 642.57,285.24 643.20,285.94 643.82,283.59 644.45,283.96 645.08,285.38 645.71,285.04 646.34,284.70 646.97,284.50 647.60,285.61 648.23,285.20 648.86,284.86 649.49,285.90 650.11,285.63 650.74,284.57 651.37,284.46 652.00,285.36 652.63,285.00 653.26,285.02 653.89,285.33 654.52,285.67 655.15,285.09 655.77,285.98 656.40,284.81 657.03,285.27 657.66,284.58 658.29,285.01 658.92,285.75 659.55,283.98 660.18,283.27 660.81,284.85 661.44,284.89 662.07,285.00 662.69,284.03 663.32,284.70 663.95,285.20 664.58,285.08 665.21,287.69 665.84,285.03 666.47,284.47 667.10,284.96 667.73,284.59 668.36,284.87 668.98,283.92 669.61,284.05 670.24,284.88 670.87,284.55 671.50,284.44" fill="none" stroke="#77AC30" stroke-width="1.7" stroke-linejoin="miter" stroke-miterlimit="2"/><path d="M42.50,231.90 43.13,237.39 43.76,232.43 44.39,232.20 45.02,227.58 45.65,231.61 46.27,232.84 46.90,231.71 47.53,231.52 48.16,234.69 48.79,228.65 49.42,234.36 50.05,232.33 50.68,239.50 51.31,231.84 51.94,232.30 52.56,231.78 53.19,233.76 53.82,231.72 54.45,231.59 55.08,231.55 55.71,227.00 56.34,232.06 56.97,232.06 57.60,232.19 58.23,238.50 58.85,231.74 59.48,231.52 60.11,231.30 60.74,231.34 61.37,231.12 62.00,231.68 62.63,231.90 63.26,232.20 63.89,232.33 64.52,231.95 65.14,238.50 65.77,231.78 66.40,231.69 67.03,231.92 67.66,232.22 68.29,235.21 68.92,231.09 69.55,231.59 70.18,229.36 70.81,234.08 71.43,239.50 72.06,232.16 72.69,232.51 73.32,232.95 73.95,231.99 74.58,231.88 75.21,231.69 75.84,231.83 76.47,228.39 77.09,232.12 77.72,233.10 78.35,232.25 78.98,232.10 79.61,232.30 80.24,232.46 80.87,232.54 81.50,232.42 82.13,228.61 82.76,232.08 83.38,239.50 84.01,231.86 84.64,231.24 85.27,231.83 85.90,231.89 86.53,231.83 87.16,232.14 87.79,232.04 88.42,232.43 89.05,231.56 89.67,232.28 90.30,231.70 90.93,231.45 91.56,230.97 92.19,230.94 92.82,231.30 93.45,242.00 94.08,232.00 94.71,232.81 95.34,232.23 95.97,242.00 96.59,231.74 97.22,231.58 97.85,231.15 98.48,231.06 99.11,231.20 99.74,233.03 100.37,240.70 101.00,233.14 101.63,227.37 102.25,232.71 102.88,232.40 103.51,242.60 104.14,230.43 104.77,232.14 105.40,232.07 106.03,227.00 106.66,232.44 107.29,234.34 107.92,231.90 108.55,232.33 109.17,238.95 109.80,240.70 110.43,230.20 111.06,237.10 111.69,232.21 112.32,236.48 112.95,232.21 113.58,231.26 114.21,232.40 114.83,233.24 115.46,234.42 116.09,231.75 116.72,231.86 117.35,231.70 117.98,232.27 118.61,232.26 119.24,232.65 119.87,233.07 120.50,233.12 121.12,233.46 121.75,243.00 122.38,230.71 123.01,232.75 123.64,232.93 124.27,234.42 124.90,232.51 125.53,234.97 126.16,232.39 126.79,232.09 127.42,231.42 128.04,233.94 128.67,230.99 129.30,230.14 129.93,232.83 130.56,232.12 131.19,232.72 131.82,232.42 132.45,234.80 133.08,230.10 133.70,231.86 134.33,231.69 134.96,231.82 135.59,235.67 136.22,240.70 136.85,232.29 137.48,232.01 138.11,234.20 138.74,231.83 139.37,231.94 140.00,232.02 140.62,232.04 141.25,231.98 141.88,231.92 142.51,231.74 143.14,232.40 143.77,231.93 144.40,232.36 145.03,232.43 145.66,233.78 146.28,227.61 146.91,237.00 147.54,231.67 148.17,233.50 148.80,232.09 149.43,234.02 150.06,231.94 150.69,233.31 151.32,234.25 151.95,232.67 152.57,233.82 153.20,234.45 153.83,232.39 154.46,231.99 155.09,232.13 155.72,232.12 156.35,240.70 156.98,232.01 157.61,231.78 158.24,231.46 158.87,232.19 159.49,234.14 160.12,232.21 160.75,231.57 161.38,233.50 162.01,233.49 162.64,230.75 163.27,231.74 163.90,231.67 164.53,231.61 165.16,231.89 165.78,232.97 166.41,232.63 167.04,242.00 167.67,232.85 168.30,232.00 168.93,232.20 169.56,232.15 170.19,231.81 170.82,231.87 171.44,231.34 172.07,236.60 172.70,231.56 173.33,233.10 173.96,231.43 174.59,231.81 175.22,232.22 175.85,235.98 176.48,232.44 177.11,233.48 177.74,242.00 178.36,230.38 178.99,231.99 179.62,232.44 180.25,232.69 180.88,233.09 181.51,237.00 182.14,233.54 182.77,232.66 183.40,231.52 184.03,231.55 184.65,231.77 185.28,231.90 185.91,231.69 186.54,231.96 187.17,238.50 187.80,236.07 188.43,231.74 189.06,232.18 189.69,231.31 190.31,232.54 190.94,232.27 191.57,238.50 192.20,231.69 192.83,234.56 193.46,232.04 194.09,231.33 194.72,232.53 195.35,232.43 195.98,230.77 196.60,232.31 197.23,232.38 197.86,232.14 198.49,232.10 199.12,232.78 199.75,232.57 200.38,234.52 201.01,232.93 201.64,232.52 202.27,237.00 202.90,232.92 203.52,232.37 204.15,232.44 204.78,232.71 205.41,234.94 206.04,231.26 206.67,227.23 207.30,232.13 207.93,231.91 208.56,234.88 209.19,231.43 209.81,233.73 210.44,233.48 211.07,232.32 211.70,231.65 212.33,231.55 212.96,232.66 213.59,230.21 214.22,236.07 214.85,233.34 215.47,236.00 216.10,231.06 216.73,234.48 217.36,232.28 217.99,231.39 218.62,233.66 219.25,232.36 219.88,233.10 220.51,232.40 221.14,232.20 221.77,233.36 222.39,227.35 223.02,231.74 223.65,231.61 224.28,231.84 224.91,228.85 225.54,232.84 226.17,233.36 226.80,233.14 227.43,232.83 228.06,232.27 228.68,233.01 229.31,231.79 229.94,231.85 230.57,232.73 231.20,231.70 231.83,231.72 232.46,234.94 233.09,232.35 233.72,232.51 234.34,232.24 234.97,238.50 235.60,231.90 236.23,231.76 236.86,231.72 237.49,231.82 238.12,231.60 238.75,227.53 239.38,228.71 240.01,232.41 240.63,231.41 241.26,231.55 241.89,231.58 242.52,232.56 243.15,240.30 243.78,232.01 244.41,232.27 245.04,235.99 245.67,232.08 246.30,227.11 246.93,231.96 247.55,232.08 248.18,231.95 248.81,237.73 249.44,232.07 250.07,232.00 250.70,232.28 251.33,232.01 251.96,232.34 252.59,231.91 253.22,231.69 253.84,232.15 254.47,232.08 255.10,233.69 255.73,231.82 256.36,231.90 256.99,238.50 257.62,232.43 258.25,235.92 258.88,232.93 259.50,232.70 260.13,231.49 260.76,231.62 261.39,232.63 262.02,232.28 262.65,232.34 263.28,232.06 263.91,231.90 264.54,232.31 265.17,241.90 265.79,231.94 266.42,232.99 267.05,231.47 267.68,231.89 268.31,231.46 268.94,230.91 269.57,232.02 270.20,231.73 270.83,231.55 271.46,231.61 272.09,231.78 272.71,233.89 273.34,232.23 273.97,230.85 274.60,231.71 275.23,231.10 275.86,231.48 276.49,233.83 277.12,231.60 277.75,231.94 278.38,231.41 279.00,238.50 279.63,231.63 280.26,231.16 280.89,231.19 281.52,231.56 282.15,236.52 282.78,231.35 283.41,231.87 284.04,230.25 284.66,231.43 285.29,238.30 285.92,230.84 286.55,230.71 287.18,230.83 287.81,239.50 288.44,232.00 289.07,232.29 289.70,231.45 290.33,232.88 290.96,238.81 291.58,226.93 292.21,229.15 292.84,243.00 293.47,231.28 294.10,234.91 294.73,231.48 295.36,232.32 295.99,232.49 296.62,232.47 297.25,231.87 297.87,231.73 298.50,231.58 299.13,231.90 299.76,234.85 300.39,232.30 301.02,232.46 301.65,232.67 302.28,232.01 302.91,241.00 303.54,232.01 304.16,231.82 304.79,232.05 305.42,232.16 306.05,235.25 306.68,231.14 307.31,231.70 307.94,231.42 308.57,230.41 309.20,233.24 309.82,231.68 310.45,230.85 311.08,232.01 311.71,232.51 312.34,232.22 312.97,232.39 313.60,232.15 314.23,233.73 314.86,227.65 315.49,238.50 316.12,235.42 316.74,231.54 317.37,232.46 318.00,232.46 318.63,230.70 319.26,231.46 319.89,238.50 320.52,231.39 321.15,231.76 321.78,231.43 322.41,231.48 323.03,238.50 323.66,231.54 324.29,231.25 324.92,231.54 325.55,231.41 326.18,231.20 326.81,231.14 327.44,231.01 328.07,230.22 328.69,231.34 329.32,236.15 329.95,231.56 330.58,231.95 331.21,228.33 331.84,232.12 332.47,232.15 333.10,232.06 333.73,232.43 334.36,233.20 334.99,232.27 335.61,232.18 336.24,233.04 336.87,230.78 337.50,231.85 338.13,234.95 338.76,233.28 339.39,232.43 340.02,232.48 340.65,232.75 341.27,232.61 341.90,234.83 342.53,237.29 343.16,232.56 343.79,232.21 344.42,231.44 345.05,231.52 345.68,242.00 346.31,232.30 346.94,233.69 347.56,232.27 348.19,231.11 348.82,232.07 349.45,232.79 350.08,232.00 350.71,231.92 351.34,231.95 351.97,231.28 352.60,231.47 353.23,232.91 353.86,231.76 354.48,232.01 355.11,232.08 355.74,232.15 356.37,226.81 357.00,231.57 357.63,230.56 358.26,236.19 358.89,232.13 359.52,232.50 360.14,232.64 360.77,237.97 361.40,232.47 362.03,232.28 362.66,239.50 363.29,232.03 363.92,230.85 364.55,231.69 365.18,232.28 365.81,232.04 366.44,232.56 367.06,232.01 367.69,237.00 368.32,234.37 368.95,239.50 369.58,232.34 370.21,232.11 370.84,231.88 371.47,232.67 372.10,231.88 372.73,233.71 373.35,229.42 373.98,231.98 374.61,231.93 375.24,233.05 375.87,232.60 376.50,231.49 377.13,231.60 377.76,227.89 378.39,236.27 379.01,232.06 379.64,232.08 380.27,238.50 380.90,233.81 381.53,231.48 382.16,231.61 382.79,231.36 383.42,231.73 384.05,231.76 384.68,233.74 385.31,231.43 385.93,238.50 386.56,231.83 387.19,230.44 387.82,235.66 388.45,234.80 389.08,232.00 389.71,232.02 390.34,231.95 390.97,231.84 391.60,231.85 392.22,231.90 392.85,231.81 393.48,232.07 394.11,231.74 394.74,231.40 395.37,231.79 396.00,231.17 396.63,234.84 397.26,232.22 397.88,233.05 398.51,231.90 399.14,232.23 399.77,235.46 400.40,232.02 401.03,231.46 401.66,235.03 402.29,232.13 402.92,232.38 403.55,231.93 404.18,232.71 404.80,230.39 405.43,232.37 406.06,236.00 406.69,232.26 407.32,232.17 407.95,231.85 408.58,231.29 409.21,231.67 409.84,232.17 410.46,229.48 411.09,232.76 411.72,232.79 412.35,232.69 412.98,232.40 413.61,231.72 414.24,231.47 414.87,231.35 415.50,231.67 416.13,231.71 416.75,231.83 417.38,231.63 418.01,231.54 418.64,231.98 419.27,232.69 419.90,235.59 420.53,233.09 421.16,232.80 421.79,232.31 422.42,232.25 423.05,232.08 423.67,231.80 424.30,232.04 424.93,231.96 425.56,232.03 426.19,231.82 426.82,231.95 427.45,232.24 428.08,231.92 428.71,235.76 429.33,231.73 429.96,231.68 430.59,243.00 431.22,231.42 431.85,232.17 432.48,232.22 433.11,231.43 433.74,232.36 434.37,244.90 435.00,232.48 435.62,232.03 436.25,232.33 436.88,232.32 437.51,232.42 438.14,243.00 438.77,231.90 439.40,231.48 440.03,231.10 440.66,231.64 441.29,231.87 441.92,236.46 442.54,232.01 443.17,231.76 443.80,231.50 444.43,232.54 445.06,231.63 445.69,231.82 446.32,231.20 446.95,231.13 447.58,236.36 448.20,232.57 448.83,231.67 449.46,231.54 450.09,231.72 450.72,232.05 451.35,232.37 451.98,232.08 452.61,231.89 453.24,231.48 453.87,231.55 454.50,232.16 455.12,232.63 455.75,232.62 456.38,232.57 457.01,231.75 457.64,243.00 458.27,232.29 458.90,232.59 459.53,232.23 460.16,243.00 460.79,234.89 461.41,232.56 462.04,229.57 462.67,231.44 463.30,231.30 463.93,231.18 464.56,231.42 465.19,231.70 465.82,231.82 466.45,231.76 467.07,232.65 467.70,231.34 468.33,231.65 468.96,234.91 469.59,231.72 470.22,231.96 470.85,232.60 471.48,232.78 472.11,232.04 472.74,237.00 473.37,237.36 473.99,236.44 474.62,232.05 475.25,233.76 475.88,231.86 476.51,231.97 477.14,236.35 477.77,232.85 478.40,232.15 479.03,232.52 479.66,232.01 480.28,231.98 480.91,233.64 481.54,231.77 482.17,241.00 482.80,231.34 483.43,230.85 484.06,242.00 484.69,232.22 485.32,231.86 485.94,232.27 486.57,232.62 487.20,232.94 487.83,232.92 488.46,232.88 489.09,232.36 489.72,232.88 490.35,231.95 490.98,232.33 491.61,245.40 492.24,232.68 492.86,231.77 493.49,231.85 494.12,232.27 494.75,232.33 495.38,232.00 496.01,232.58 496.64,231.28 497.27,239.50 497.90,231.13 498.52,231.85 499.15,231.97 499.78,232.15 500.41,233.04 501.04,232.34 501.67,232.27 502.30,232.14 502.93,231.93 503.56,231.51 504.19,232.86 504.81,232.19 505.44,240.70 506.07,239.80 506.70,231.75 507.33,231.68 507.96,231.75 508.59,241.00 509.22,231.24 509.85,232.44 510.48,231.88 511.11,232.55 511.73,231.70 512.36,230.21 512.99,226.60 513.62,231.33 514.25,242.30 514.88,232.76 515.51,231.99 516.14,232.32 516.77,232.18 517.39,236.08 518.02,231.98 518.65,230.08 519.28,237.31 519.91,237.84 520.54,234.17 521.17,237.30 521.80,236.90 522.43,232.78 523.06,232.16 523.68,231.33 524.31,233.93 524.94,230.75 525.57,237.98 526.20,231.89 526.83,230.40 527.46,232.68 528.09,232.25 528.72,232.38 529.35,232.52 529.98,234.06 530.60,231.68 531.23,231.88 531.86,233.48 532.49,231.03 533.12,227.54 533.75,234.44 534.38,232.66 535.01,232.93 535.64,232.47 536.26,238.83 536.89,245.30 537.52,231.37 538.15,231.64 538.78,229.50 539.41,231.92 540.04,231.07 540.67,233.70 541.30,231.43 541.93,231.48 542.56,232.01 543.18,231.84 543.81,242.30 544.44,232.15 545.07,231.98 545.70,232.12 546.33,231.81 546.96,231.63 547.59,231.63 548.22,231.81 548.85,232.00 549.47,230.10 550.10,231.62 550.73,242.30 551.36,232.36 551.99,230.01 552.62,231.94 553.25,231.99 553.88,232.23 554.51,232.31 555.13,232.77 555.76,231.61 556.39,231.76 557.02,230.12 557.65,241.00 558.28,231.86 558.91,232.41 559.54,239.59 560.17,232.81 560.80,232.39 561.42,232.27 562.05,227.00 562.68,233.99 563.31,232.35 563.94,232.43 564.57,233.57 565.20,231.95 565.83,232.11 566.46,232.09 567.09,231.92 567.72,229.31 568.34,231.75 568.97,231.65 569.60,231.83 570.23,231.80 570.86,231.85 571.49,232.81 572.12,232.48 572.75,233.24 573.38,244.80 574.00,232.99 574.63,232.19 575.26,234.76 575.89,246.80 576.52,232.18 577.15,234.00 577.78,230.71 578.41,232.12 579.04,231.97 579.67,243.50 580.29,232.32 580.92,232.20 581.55,232.13 582.18,236.16 582.81,231.40 583.44,231.47 584.07,231.63 584.70,231.81 585.33,231.98 585.96,232.12 586.59,232.56 587.21,231.99 587.84,246.80 588.47,235.51 589.10,231.76 589.73,231.73 590.36,231.96 590.99,231.39 591.62,246.00 592.25,231.24 592.88,231.58 593.50,232.00 594.13,231.42 594.76,232.19 595.39,231.42 596.02,243.50 596.65,231.39 597.28,231.68 597.91,231.67 598.54,231.80 599.16,232.00 599.79,232.23 600.42,232.08 601.05,232.21 601.68,231.54 602.31,231.25 602.94,231.07 603.57,231.06 604.20,231.30 604.83,229.95 605.46,226.58 606.08,231.44 606.71,231.46 607.34,231.59 607.97,231.94 608.60,232.17 609.23,239.80 609.86,235.76 610.49,232.75 611.12,232.02 611.75,231.88 612.37,231.39 613.00,237.37 613.63,231.53 614.26,244.80 614.89,231.96 615.52,233.88 616.15,232.35 616.78,232.42 617.41,232.37 618.03,232.58 618.66,232.20 619.29,229.70 619.92,231.50 620.55,246.00 621.18,229.57 621.81,232.44 622.44,232.72 623.07,233.53 623.70,232.93 624.33,232.05 624.95,231.81 625.58,247.30 626.21,231.50 626.84,231.90 627.47,232.08 628.10,231.74 628.73,234.07 629.36,232.82 629.99,230.16 630.62,232.13 631.24,232.35 631.87,233.36 632.50,242.30 633.13,232.36 633.76,231.62 634.39,232.44 635.02,232.01 635.65,232.15 636.28,233.54 636.90,229.33 637.53,235.17 638.16,231.64 638.79,231.68 639.42,231.84 640.05,231.74 640.68,232.07 641.31,232.36 641.94,235.23 642.57,238.60 643.20,237.05 643.82,231.76 644.45,238.79 645.08,232.08 645.71,232.45 646.34,242.30 646.97,232.73 647.60,232.14 648.23,231.51 648.86,231.24 649.49,231.25 650.11,231.84 650.74,233.16 651.37,233.83 652.00,232.10 652.63,232.24 653.26,232.58 653.89,229.68 654.52,231.92 655.15,231.52 655.77,231.34 656.40,231.44 657.03,230.65 657.66,232.09 658.29,232.49 658.92,232.79 659.55,232.60 660.18,242.30 660.81,232.00 661.44,231.97 662.07,232.64 662.69,233.30 663.32,234.99 663.95,244.30 664.58,230.29 665.21,233.05 665.84,231.28 666.47,236.72 667.10,231.70 667.73,232.14 668.36,229.65 668.98,239.80 669.61,231.50 670.24,231.76 670.87,231.46 671.50,234.35" fill="none" stroke="#7E2F8E" stroke-width="0.95" stroke-linejoin="miter" stroke-miterlimit="2"/><path d="M42.50,180.54 43.13,178.44 43.76,177.20 44.39,180.28 45.02,178.48 45.65,182.32 46.27,177.89 46.90,179.22 47.53,182.19 48.16,181.48 48.79,180.18 49.42,179.50 50.05,179.42 50.68,174.17 51.31,178.98 51.94,173.00 52.56,178.07 53.19,180.26 53.82,179.45 54.45,179.71 55.08,185.88 55.71,181.20 56.34,180.13 56.97,179.46 57.60,195.40 58.23,180.78 58.85,180.62 59.48,179.75 60.11,179.65 60.74,180.13 61.37,179.29 62.00,174.95 62.63,175.23 63.26,177.42 63.89,176.78 64.52,179.75 65.14,178.94 65.77,188.00 66.40,181.01 67.03,178.68 67.66,179.74 68.29,180.07 68.92,179.67 69.55,179.05 70.18,179.58 70.81,176.19 71.43,180.57 72.06,194.00 72.69,180.03 73.32,183.19 73.95,179.61 74.58,179.23 75.21,194.00 75.84,180.07 76.47,179.56 77.09,177.51 77.72,179.44 78.35,180.36 78.98,179.85 79.61,189.00 80.24,179.14 80.87,178.40 81.50,179.26 82.13,179.76 82.76,178.54 83.38,179.03 84.01,180.13 84.64,180.17 85.27,181.99 85.90,178.98 86.53,178.99 87.16,177.52 87.79,180.37 88.42,179.27 89.05,179.63 89.67,179.32 90.30,179.57 90.93,179.97 91.56,179.28 92.19,178.89 92.82,180.53 93.45,189.00 94.08,178.74 94.71,183.41 95.34,179.96 95.97,179.96 96.59,179.08 97.22,179.32 97.85,180.20 98.48,193.00 99.11,179.15 99.74,182.00 100.37,179.86 101.00,179.90 101.63,178.86 102.25,178.58 102.88,179.64 103.51,181.14 104.14,175.44 104.77,179.87 105.40,179.58 106.03,179.80 106.66,195.40 107.29,177.73 107.92,177.44 108.55,179.67 109.17,179.72 109.80,177.24 110.43,180.20 111.06,181.33 111.69,181.02 112.32,180.47 112.95,178.70 113.58,179.19 114.21,179.25 114.83,179.65 115.46,178.63 116.09,190.50 116.72,180.61 117.35,180.17 117.98,178.90 118.61,179.14 119.24,179.71 119.87,177.87 120.50,180.33 121.12,178.60 121.75,194.00 122.38,180.09 123.01,179.13 123.64,180.49 124.27,180.43 124.90,179.75 125.53,179.37 126.16,179.35 126.79,180.52 127.42,180.26 128.04,183.81 128.67,179.47 129.30,179.83 129.93,179.56 130.56,179.73 131.19,180.15 131.82,181.11 132.45,194.00 133.08,179.22 133.70,178.82 134.33,178.87 134.96,179.94 135.59,181.99 136.22,179.85 136.85,178.78 137.48,179.82 138.11,179.61 138.74,178.72 139.37,180.11 140.00,179.61 140.62,186.00 141.25,179.24 141.88,179.14 142.51,181.59 143.14,180.09 143.77,174.60 144.40,179.66 145.03,177.86 145.66,180.36 146.28,193.00 146.91,177.27 147.54,179.87 148.17,179.55 148.80,179.82 149.43,180.90 150.06,180.53 150.69,183.46 151.32,180.10 151.95,194.00 152.57,179.72 153.20,179.68 153.83,185.41 154.46,179.75 155.09,180.97 155.72,180.88 156.35,181.04 156.98,190.50 157.61,179.19 158.24,179.84 158.87,179.50 159.49,179.66 160.12,195.40 160.75,179.93 161.38,180.52 162.01,179.65 162.64,179.74 163.27,179.35 163.90,179.00 164.53,182.65 165.16,177.22 165.78,179.76 166.41,181.56 167.04,190.50 167.67,180.27 168.30,180.72 168.93,179.40 169.56,178.95 170.19,179.38 170.82,178.86 171.44,179.72 172.07,178.21 172.70,180.13 173.33,179.91 173.96,180.08 174.59,179.70 175.22,179.27 175.85,177.89 176.48,179.41 177.11,180.28 177.74,179.69 178.36,179.61 178.99,181.36 179.62,179.16 180.25,176.80 180.88,178.46 181.51,179.21 182.14,179.14 182.77,194.00 183.40,175.31 184.03,178.78 184.65,179.53 185.28,179.03 185.91,189.00 186.54,179.82 187.17,182.41 187.80,178.62 188.43,179.32 189.06,179.60 189.69,179.59 190.31,179.10 190.94,179.31 191.57,181.33 192.20,183.36 192.83,189.00 193.46,179.51 194.09,179.58 194.72,180.57 195.35,181.63 195.98,178.54 196.60,177.59 197.23,179.85 197.86,180.96 198.49,182.32 199.12,179.81 199.75,180.00 200.38,179.70 201.01,177.66 201.64,179.77 202.27,180.07 202.90,179.65 203.52,179.93 204.15,176.55 204.78,180.41 205.41,179.85 206.04,179.59 206.67,179.85 207.30,179.25 207.93,180.22 208.56,180.41 209.19,180.98 209.81,180.55 210.44,180.25 211.07,179.90 211.70,180.24 212.33,180.12 212.96,179.80 213.59,179.75 214.22,180.54 214.85,179.94 215.47,188.40 216.10,183.39 216.73,182.33 217.36,179.80 217.99,179.61 218.62,179.76 219.25,180.15 219.88,178.86 220.51,179.83 221.14,180.31 221.77,179.57 222.39,180.50 223.02,186.07 223.65,179.48 224.28,177.22 224.91,178.80 225.54,179.74 226.17,180.55 226.80,179.52 227.43,180.62 228.06,180.10 228.68,180.25 229.31,179.57 229.94,178.38 230.57,178.72 231.20,179.42 231.83,178.92 232.46,178.85 233.09,179.72 233.72,179.18 234.34,181.94 234.97,179.22 235.60,193.00 236.23,179.65 236.86,174.30 237.49,182.30 238.12,180.18 238.75,178.92 239.38,177.58 240.01,179.63 240.63,180.22 241.26,180.02 241.89,179.99 242.52,180.37 243.15,178.17 243.78,180.80 244.41,179.31 245.04,194.20 245.67,178.04 246.30,179.11 246.93,178.91 247.55,180.00 248.18,178.80 248.81,180.07 249.44,181.43 250.07,180.49 250.70,179.55 251.33,180.17 251.96,179.91 252.59,178.55 253.22,194.20 253.84,179.47 254.47,177.99 255.10,179.70 255.73,174.63 256.36,180.38 256.99,180.65 257.62,177.25 258.25,181.16 258.88,179.31 259.50,179.86 260.13,180.74 260.76,179.93 261.39,180.12 262.02,180.93 262.65,178.99 263.28,179.42 263.91,181.31 264.54,179.50 265.17,182.96 265.79,179.68 266.42,179.23 267.05,180.79 267.68,180.11 268.31,179.83 268.94,179.95 269.57,180.29 270.20,179.46 270.83,179.26 271.46,178.15 272.09,178.92 272.71,183.16 273.34,179.42 273.97,178.25 274.60,178.49 275.23,179.90 275.86,179.63 276.49,179.14 277.12,179.96 277.75,180.02 278.38,180.08 279.00,179.87 279.63,177.64 280.26,179.32 280.89,179.62 281.52,195.40 282.15,178.31 282.78,182.18 283.41,180.85 284.04,177.15 284.66,179.79 285.29,179.64 285.92,180.82 286.55,179.53 287.18,178.66 287.81,181.77 288.44,175.72 289.07,179.95 289.70,178.89 290.33,179.46 290.96,178.61 291.58,180.38 292.21,180.37 292.84,179.89 293.47,179.28 294.10,178.88 294.73,179.63 295.36,180.54 295.99,180.04 296.62,177.01 297.25,180.58 297.87,180.79 298.50,178.28 299.13,179.66 299.76,180.56 300.39,180.24 301.02,182.53 301.65,180.19 302.28,186.00 302.91,179.03 303.54,179.28 304.16,175.27 304.79,180.40 305.42,181.50 306.05,180.14 306.68,180.00 307.31,180.24 307.94,177.75 308.57,178.55 309.20,179.68 309.82,180.41 310.45,180.55 311.08,180.15 311.71,179.78 312.34,179.90 312.97,180.21 313.60,179.34 314.23,178.84 314.86,179.48 315.49,179.02 316.12,179.10 316.74,179.74 317.37,180.54 318.00,178.60 318.63,179.81 319.26,177.46 319.89,179.60 320.52,178.73 321.15,179.40 321.78,179.86 322.41,179.45 323.03,193.00 323.66,179.41 324.29,179.90 324.92,179.37 325.55,179.80 326.18,180.20 326.81,177.91 327.44,177.67 328.07,180.35 328.69,180.41 329.32,179.38 329.95,180.54 330.58,184.96 331.21,179.71 331.84,180.11 332.47,179.43 333.10,180.20 333.73,180.12 334.36,178.35 334.99,179.56 335.61,179.83 336.24,180.97 336.87,184.89 337.50,178.69 338.13,193.00 338.76,178.45 339.39,179.54 340.02,179.59 340.65,179.19 341.27,179.82 341.90,178.67 342.53,183.21 343.16,176.07 343.79,181.41 344.42,177.24 345.05,180.23 345.68,178.88 346.31,179.38 346.94,189.50 347.56,179.61 348.19,178.98 348.82,179.38 349.45,180.88 350.08,179.62 350.71,182.53 351.34,178.64 351.97,180.90 352.60,181.47 353.23,180.37 353.86,180.54 354.48,178.53 355.11,180.11 355.74,178.53 356.37,187.20 357.00,180.04 357.63,180.63 358.26,180.01 358.89,180.05 359.52,180.15 360.14,181.12 360.77,179.97 361.40,195.40 362.03,179.79 362.66,179.51 363.29,178.44 363.92,179.75 364.55,180.08 365.18,180.76 365.81,181.34 366.44,179.65 367.06,179.67 367.69,177.33 368.32,179.48 368.95,179.17 369.58,179.66 370.21,180.00 370.84,176.57 371.47,179.31 372.10,182.90 372.73,179.91 373.35,195.40 373.98,180.08 374.61,179.90 375.24,180.53 375.87,182.91 376.50,179.38 377.13,184.83 377.76,181.01 378.39,181.43 379.01,179.15 379.64,180.39 380.27,178.49 380.90,182.85 381.53,180.38 382.16,179.99 382.79,179.99 383.42,179.16 384.05,182.98 384.68,185.13 385.31,180.36 385.93,179.85 386.56,177.08 387.19,185.68 387.82,180.08 388.45,174.28 389.08,178.44 389.71,179.80 390.34,178.84 390.97,180.29 391.60,180.18 392.22,179.90 392.85,175.52 393.48,179.30 394.11,181.28 394.74,180.77 395.37,179.27 396.00,177.88 396.63,177.44 397.26,179.84 397.88,180.11 398.51,174.54 399.14,179.59 399.77,177.21 400.40,178.80 401.03,179.81 401.66,180.82 402.29,180.10 402.92,179.91 403.55,182.02 404.18,179.86 404.80,181.24 405.43,180.69 406.06,183.41 406.69,179.33 407.32,178.56 407.95,179.25 408.58,179.99 409.21,180.46 409.84,180.34 410.46,179.30 411.09,178.50 411.72,179.69 412.35,179.37 412.98,180.15 413.61,179.80 414.24,180.19 414.87,180.28 415.50,180.32 416.13,180.13 416.75,178.77 417.38,179.75 418.01,179.07 418.64,180.02 419.27,179.58 419.90,179.35 420.53,179.18 421.16,178.10 421.79,179.81 422.42,179.99 423.05,179.42 423.67,180.29 424.30,179.97 424.93,183.00 425.56,178.96 426.19,179.76 426.82,182.37 427.45,178.94 428.08,180.35 428.71,180.94 429.33,175.15 429.96,180.28 430.59,181.26 431.22,180.46 431.85,181.90 432.48,175.39 433.11,179.59 433.74,178.40 434.37,178.45 435.00,180.22 435.62,179.45 436.25,179.66 436.88,181.21 437.51,180.26 438.14,179.54 438.77,180.85 439.40,181.11 440.03,180.51 440.66,179.85 441.29,183.25 441.92,179.97 442.54,179.62 443.17,177.63 443.80,179.10 444.43,181.04 445.06,179.91 445.69,195.00 446.32,178.96 446.95,174.00 447.58,177.71 448.20,179.17 448.83,179.69 449.46,179.09 450.09,178.25 450.72,182.86 451.35,178.89 451.98,181.65 452.61,178.18 453.24,179.97 453.87,175.94 454.50,188.40 455.12,179.76 455.75,180.51 456.38,180.83 457.01,180.51 457.64,184.07 458.27,183.35 458.90,182.00 459.53,179.08 460.16,178.42 460.79,179.21 461.41,178.46 462.04,193.00 462.67,179.29 463.30,179.39 463.93,179.78 464.56,179.42 465.19,179.94 465.82,179.84 466.45,177.56 467.07,180.48 467.70,180.81 468.33,181.14 468.96,180.53 469.59,178.92 470.22,179.63 470.85,180.76 471.48,179.61 472.11,177.33 472.74,178.88 473.37,178.83 473.99,179.85 474.62,176.72 475.25,178.99 475.88,178.89 476.51,179.83 477.14,181.12 477.77,195.00 478.40,179.76 479.03,179.23 479.66,182.94 480.28,179.86 480.91,179.70 481.54,178.94 482.17,178.57 482.80,179.39 483.43,182.89 484.06,180.05 484.69,181.08 485.32,179.91 485.94,184.00 486.57,184.18 487.20,179.79 487.83,179.65 488.46,178.80 489.09,178.68 489.72,179.85 490.35,179.96 490.98,179.52 491.61,177.15 492.24,179.43 492.86,178.28 493.49,192.00 494.12,180.81 494.75,179.36 495.38,179.67 496.01,179.23 496.64,195.40 497.27,179.17 497.90,179.68 498.52,179.68 499.15,178.46 499.78,183.57 500.41,178.93 501.04,180.05 501.67,179.55 502.30,179.52 502.93,193.00 503.56,180.24 504.19,183.03 504.81,179.30 505.44,179.30 506.07,179.55 506.70,180.08 507.33,179.72 507.96,179.89 508.59,177.90 509.22,179.32 509.85,179.96 510.48,191.00 511.11,179.76 511.73,184.13 512.36,178.52 512.99,176.21 513.62,178.31 514.25,179.05 514.88,177.53 515.51,179.25 516.14,179.37 516.77,179.90 517.39,180.64 518.02,179.92 518.65,177.98 519.28,177.61 519.91,177.88 520.54,180.23 521.17,193.50 521.80,181.83 522.43,178.87 523.06,180.10 523.68,182.13 524.31,180.51 524.94,179.58 525.57,179.16 526.20,178.83 526.83,178.99 527.46,179.69 528.09,179.84 528.72,178.31 529.35,181.93 529.98,179.21 530.60,181.08 531.23,178.73 531.86,179.65 532.49,180.15 533.12,180.80 533.75,179.92 534.38,180.25 535.01,178.75 535.64,180.19 536.26,180.28 536.89,181.96 537.52,189.80 538.15,179.80 538.78,194.80 539.41,177.90 540.04,180.08 540.67,179.66 541.30,179.81 541.93,179.47 542.56,178.30 543.18,177.71 543.81,179.18 544.44,178.72 545.07,179.73 545.70,180.16 546.33,179.89 546.96,195.30 547.59,179.43 548.22,180.27 548.85,179.54 549.47,194.00 550.10,180.24 550.73,180.11 551.36,180.36 551.99,179.59 552.62,178.93 553.25,179.99 553.88,180.61 554.51,179.16 555.13,179.71 555.76,179.23 556.39,179.48 557.02,179.10 557.65,194.30 558.28,181.79 558.91,180.24 559.54,179.77 560.17,180.47 560.80,181.82 561.42,179.83 562.05,177.77 562.68,195.30 563.31,179.68 563.94,179.03 564.57,179.01 565.20,177.69 565.83,179.28 566.46,179.26 567.09,180.48 567.72,180.05 568.34,180.83 568.97,178.59 569.60,178.97 570.23,179.02 570.86,179.40 571.49,178.22 572.12,178.78 572.75,178.72 573.38,180.08 574.00,180.74 574.63,181.27 575.26,180.00 575.89,180.09 576.52,179.44 577.15,179.73 577.78,178.95 578.41,179.84 579.04,180.39 579.67,179.01 580.29,176.96 580.92,174.84 581.55,178.90 582.18,179.24 582.81,179.74 583.44,179.74 584.07,179.17 584.70,179.62 585.33,179.73 585.96,177.89 586.59,180.02 587.21,178.76 587.84,178.32 588.47,179.26 589.10,180.19 589.73,180.32 590.36,180.38 590.99,179.37 591.62,178.97 592.25,179.97 592.88,177.30 593.50,179.93 594.13,179.03 594.76,179.56 595.39,187.30 596.02,180.05 596.65,179.40 597.28,180.72 597.91,179.45 598.54,180.34 599.16,174.78 599.79,179.16 600.42,193.50 601.05,179.17 601.68,180.18 602.31,178.76 602.94,177.73 603.57,180.10 604.20,180.42 604.83,179.85 605.46,180.21 606.08,178.08 606.71,180.35 607.34,177.99 607.97,180.66 608.60,181.75 609.23,180.46 609.86,179.39 610.49,179.01 611.12,179.20 611.75,178.42 612.37,181.13 613.00,183.44 613.63,176.93 614.26,179.84 614.89,180.50 615.52,191.00 616.15,180.35 616.78,179.96 617.41,178.94 618.03,174.90 618.66,179.88 619.29,178.14 619.92,180.47 620.55,181.24 621.18,179.49 621.81,179.81 622.44,178.60 623.07,177.78 623.70,178.87 624.33,179.27 624.95,176.36 625.58,180.76 626.21,176.83 626.84,179.04 627.47,179.79 628.10,179.27 628.73,181.62 629.36,179.64 629.99,179.80 630.62,179.83 631.24,180.90 631.87,180.35 632.50,178.26 633.13,179.25 633.76,181.17 634.39,180.29 635.02,175.38 635.65,181.24 636.28,179.88 636.90,179.93 637.53,176.67 638.16,181.27 638.79,180.09 639.42,179.26 640.05,179.66 640.68,180.24 641.31,180.19 641.94,179.79 642.57,180.40 643.20,179.51 643.82,178.40 644.45,179.10 645.08,180.44 645.71,179.74 646.34,185.64 646.97,179.51 647.60,180.61 648.23,177.18 648.86,180.62 649.49,179.93 650.11,175.30 650.74,180.48 651.37,181.05 652.00,179.55 652.63,182.65 653.26,177.31 653.89,180.08 654.52,183.04 655.15,181.65 655.77,179.45 656.40,180.04 657.03,179.69 657.66,179.46 658.29,180.76 658.92,179.82 659.55,179.33 660.18,179.38 660.81,180.18 661.44,180.41 662.07,182.77 662.69,180.09 663.32,183.19 663.95,180.32 664.58,179.16 665.21,179.76 665.84,184.79 666.47,177.80 667.10,180.92 667.73,178.37 668.36,179.94 668.98,180.36 669.61,180.35 670.24,179.64 670.87,178.02 671.50,178.78" fill="none" stroke="#EDB120" stroke-width="0.95" stroke-linejoin="miter" stroke-miterlimit="2"/><path d="M42.50,125.48 43.13,126.22 43.76,130.63 44.39,125.39 45.02,126.06 45.65,128.26 46.27,127.13 46.90,124.40 47.53,129.07 48.16,126.40 48.79,127.90 49.42,127.02 50.05,124.00 50.68,125.86 51.31,127.47 51.94,124.40 52.56,128.00 53.19,126.78 53.82,129.80 54.45,126.14 55.08,125.81 55.71,127.47 56.34,128.74 56.97,127.21 57.60,126.40 58.23,132.40 58.85,128.76 59.48,125.54 60.11,122.51 60.74,125.91 61.37,127.74 62.00,139.20 62.63,128.15 63.26,127.91 63.89,126.22 64.52,121.70 65.14,127.18 65.77,127.60 66.40,125.57 67.03,126.77 67.66,129.51 68.29,129.54 68.92,126.50 69.55,127.39 70.18,127.69 70.81,126.76 71.43,127.24 72.06,125.92 72.69,125.95 73.32,123.81 73.95,129.75 74.58,128.15 75.21,130.98 75.84,128.08 76.47,127.49 77.09,128.05 77.72,129.27 78.35,127.63 78.98,126.93 79.61,126.62 80.24,127.32 80.87,127.01 81.50,127.03 82.13,126.13 82.76,127.87 83.38,128.49 84.01,125.63 84.64,124.57 85.27,127.92 85.90,130.64 86.53,128.41 87.16,123.89 87.79,128.62 88.42,128.14 89.05,127.06 89.67,126.22 90.30,126.54 90.93,128.56 91.56,128.81 92.19,124.97 92.82,127.64 93.45,126.71 94.08,129.51 94.71,127.83 95.34,126.57 95.97,127.94 96.59,126.70 97.22,127.37 97.85,128.04 98.48,126.86 99.11,128.19 99.74,126.19 100.37,127.17 101.00,121.52 101.63,126.94 102.25,127.17 102.88,126.79 103.51,126.53 104.14,126.51 104.77,128.12 105.40,125.84 106.03,127.38 106.66,127.59 107.29,128.03 107.92,128.05 108.55,128.25 109.17,127.66 109.80,125.79 110.43,128.36 111.06,130.89 111.69,128.63 112.32,123.83 112.95,127.19 113.58,125.75 114.21,123.28 114.83,127.07 115.46,124.83 116.09,128.52 116.72,127.45 117.35,127.24 117.98,126.13 118.61,127.10 119.24,132.14 119.87,127.84 120.50,128.27 121.12,123.90 121.75,125.38 122.38,126.41 123.01,124.78 123.64,127.03 124.27,127.14 124.90,132.88 125.53,128.24 126.16,126.74 126.79,126.12 127.42,126.57 128.04,129.38 128.67,129.85 129.30,127.12 129.93,126.42 130.56,128.46 131.19,127.24 131.82,126.95 132.45,126.71 133.08,126.05 133.70,127.84 134.33,126.72 134.96,128.46 135.59,127.15 136.22,127.91 136.85,126.24 137.48,127.33 138.11,126.48 138.74,126.72 139.37,127.14 140.00,126.98 140.62,127.45 141.25,124.71 141.88,129.15 142.51,128.09 143.14,125.36 143.77,131.40 144.40,124.48 145.03,125.04 145.66,129.59 146.28,126.52 146.91,127.07 147.54,128.62 148.17,132.28 148.80,127.34 149.43,126.45 150.06,127.38 150.69,127.35 151.32,126.63 151.95,127.90 152.57,127.51 153.20,125.69 153.83,126.97 154.46,125.87 155.09,127.21 155.72,126.78 156.35,126.31 156.98,127.04 157.61,126.64 158.24,127.17 158.87,128.47 159.49,131.13 160.12,129.08 160.75,127.43 161.38,127.18 162.01,125.48 162.64,128.11 163.27,127.93 163.90,126.67 164.53,127.78 165.16,128.84 165.78,128.95 166.41,126.36 167.04,124.58 167.67,125.89 168.30,131.22 168.93,126.88 169.56,130.57 170.19,126.75 170.82,124.96 171.44,127.51 172.07,126.54 172.70,130.42 173.33,126.88 173.96,128.22 174.59,131.61 175.22,127.85 175.85,126.47 176.48,132.76 177.11,126.87 177.74,127.36 178.36,126.33 178.99,129.17 179.62,128.28 180.25,126.53 180.88,123.98 181.51,129.19 182.14,126.61 182.77,126.29 183.40,123.92 184.03,127.65 184.65,126.60 185.28,124.68 185.91,132.86 186.54,126.79 187.17,128.73 187.80,131.36 188.43,128.68 189.06,128.09 189.69,127.00 190.31,126.49 190.94,125.01 191.57,126.79 192.20,126.47 192.83,125.94 193.46,127.18 194.09,127.27 194.72,127.34 195.35,127.82 195.98,128.21 196.60,127.57 197.23,128.36 197.86,126.93 198.49,126.83 199.12,127.76 199.75,122.22 200.38,127.58 201.01,125.96 201.64,123.28 202.27,126.42 202.90,126.31 203.52,128.65 204.15,127.66 204.78,126.60 205.41,124.44 206.04,126.93 206.67,126.08 207.30,129.28 207.93,127.72 208.56,126.67 209.19,126.30 209.81,126.58 210.44,126.33 211.07,125.71 211.70,130.26 212.33,128.69 212.96,127.96 213.59,127.38 214.22,128.51 214.85,122.98 215.47,123.86 216.10,128.17 216.73,126.87 217.36,131.10 217.99,127.65 218.62,126.25 219.25,127.75 219.88,127.25 220.51,124.98 221.14,126.29 221.77,126.55 222.39,124.49 223.02,126.06 223.65,123.47 224.28,127.54 224.91,127.75 225.54,130.79 226.17,126.23 226.80,127.81 227.43,128.85 228.06,128.94 228.68,126.11 229.31,128.99 229.94,126.47 230.57,127.89 231.20,128.60 231.83,127.89 232.46,128.76 233.09,127.21 233.72,126.74 234.34,127.96 234.97,129.95 235.60,126.79 236.23,126.55 236.86,128.31 237.49,126.69 238.12,125.77 238.75,126.86 239.38,129.17 240.01,126.79 240.63,125.50 241.26,125.88 241.89,137.60 242.52,127.62 243.15,131.28 243.78,126.08 244.41,127.18 245.04,128.37 245.67,127.55 246.30,127.16 246.93,128.52 247.55,131.80 248.18,126.85 248.81,127.29 249.44,126.25 250.07,126.75 250.70,125.67 251.33,126.67 251.96,127.08 252.59,127.23 253.22,127.02 253.84,126.37 254.47,127.28 255.10,127.80 255.73,127.02 256.36,128.32 256.99,125.80 257.62,126.73 258.25,125.92 258.88,127.95 259.50,128.07 260.13,128.05 260.76,126.83 261.39,128.05 262.02,128.24 262.65,128.99 263.28,125.15 263.91,128.08 264.54,130.76 265.17,128.36 265.79,130.42 266.42,128.09 267.05,127.17 267.68,129.92 268.31,126.00 268.94,127.08 269.57,126.74 270.20,124.81 270.83,128.80 271.46,127.50 272.09,128.04 272.71,127.58 273.34,122.61 273.97,125.48 274.60,125.26 275.23,129.80 275.86,126.31 276.49,122.39 277.12,124.62 277.75,127.00 278.38,127.42 279.00,128.21 279.63,127.30 280.26,127.52 280.89,126.38 281.52,126.91 282.15,129.33 282.78,127.62 283.41,125.83 284.04,126.49 284.66,124.44 285.29,128.73 285.92,123.12 286.55,127.63 287.18,131.29 287.81,128.09 288.44,127.91 289.07,130.30 289.70,129.39 290.33,126.42 290.96,126.55 291.58,126.23 292.21,121.23 292.84,128.17 293.47,126.11 294.10,126.47 294.73,128.53 295.36,127.48 295.99,123.11 296.62,126.21 297.25,127.11 297.87,126.38 298.50,125.57 299.13,127.06 299.76,127.18 300.39,125.22 301.02,127.45 301.65,130.02 302.28,126.90 302.91,127.21 303.54,127.92 304.16,125.79 304.79,127.04 305.42,124.22 306.05,126.20 306.68,126.65 307.31,129.52 307.94,126.61 308.57,128.56 309.20,126.11 309.82,126.11 310.45,127.16 311.08,126.84 311.71,127.49 312.34,129.50 312.97,126.52 313.60,131.51 314.23,128.50 314.86,127.41 315.49,128.15 316.12,128.65 316.74,127.87 317.37,128.44 318.00,126.55 318.63,127.86 319.26,127.06 319.89,129.29 320.52,130.15 321.15,123.70 321.78,125.45 322.41,125.92 323.03,125.72 323.66,126.22 324.29,127.01 324.92,126.50 325.55,130.47 326.18,129.85 326.81,120.93 327.44,126.49 328.07,130.78 328.69,126.69 329.32,127.54 329.95,124.01 330.58,127.66 331.21,129.41 331.84,127.73 332.47,128.05 333.10,127.46 333.73,127.09 334.36,127.40 334.99,123.59 335.61,127.06 336.24,127.60 336.87,127.81 337.50,128.05 338.13,128.16 338.76,127.73 339.39,129.53 340.02,127.07 340.65,127.77 341.27,126.46 341.90,127.51 342.53,127.81 343.16,126.63 343.79,127.06 344.42,123.50 345.05,129.06 345.68,127.79 346.31,128.16 346.94,128.00 347.56,127.70 348.19,126.31 348.82,126.19 349.45,125.23 350.08,126.77 350.71,132.66 351.34,124.74 351.97,128.44 352.60,129.12 353.23,126.54 353.86,126.49 354.48,127.72 355.11,125.54 355.74,125.67 356.37,126.08 357.00,130.99 357.63,128.47 358.26,125.91 358.89,126.82 359.52,127.41 360.14,125.04 360.77,127.90 361.40,128.32 362.03,126.96 362.66,129.59 363.29,127.82 363.92,127.22 364.55,128.51 365.18,127.75 365.81,128.81 366.44,129.18 367.06,126.42 367.69,131.42 368.32,126.62 368.95,127.10 369.58,123.93 370.21,126.31 370.84,130.19 371.47,127.32 372.10,126.22 372.73,127.57 373.35,128.48 373.98,126.92 374.61,123.20 375.24,126.82 375.87,132.27 376.50,121.94 377.13,126.02 377.76,130.91 378.39,128.73 379.01,128.37 379.64,127.40 380.27,125.23 380.90,128.79 381.53,127.90 382.16,127.87 382.79,126.93 383.42,123.51 384.05,124.70 384.68,126.40 385.31,127.05 385.93,125.53 386.56,126.96 387.19,126.33 387.82,125.96 388.45,127.49 389.08,129.05 389.71,129.34 390.34,127.19 390.97,126.10 391.60,126.94 392.22,126.78 392.85,127.39 393.48,126.36 394.11,126.51 394.74,126.02 395.37,126.46 396.00,125.61 396.63,123.18 397.26,127.24 397.88,125.47 398.51,128.40 399.14,126.93 399.77,125.29 400.40,129.51 401.03,126.22 401.66,122.83 402.29,123.50 402.92,132.12 403.55,128.51 404.18,129.13 404.80,125.09 405.43,125.83 406.06,126.87 406.69,126.44 407.32,126.59 407.95,126.78 408.58,128.77 409.21,127.15 409.84,127.61 410.46,127.38 411.09,126.66 411.72,126.92 412.35,128.20 412.98,127.65 413.61,127.03 414.24,131.02 414.87,125.88 415.50,125.77 416.13,126.63 416.75,127.49 417.38,127.57 418.01,125.39 418.64,128.70 419.27,129.00 419.90,122.68 420.53,128.86 421.16,128.18 421.79,127.59 422.42,125.55 423.05,126.60 423.67,126.81 424.30,126.34 424.93,126.49 425.56,124.07 426.19,128.36 426.82,127.36 427.45,121.50 428.08,126.94 428.71,126.72 429.33,128.99 429.96,122.55 430.59,122.45 431.22,125.68 431.85,127.58 432.48,125.74 433.11,125.97 433.74,128.61 434.37,127.65 435.00,128.95 435.62,130.37 436.25,127.55 436.88,124.93 437.51,127.75 438.14,126.49 438.77,126.72 439.40,126.50 440.03,128.40 440.66,128.72 441.29,125.99 441.92,124.91 442.54,122.74 443.17,127.17 443.80,131.77 444.43,121.37 445.06,126.45 445.69,131.82 446.32,128.73 446.95,125.26 447.58,130.47 448.20,126.18 448.83,126.95 449.46,127.93 450.09,127.08 450.72,127.67 451.35,126.27 451.98,127.51 452.61,127.66 453.24,126.56 453.87,127.02 454.50,127.32 455.12,128.56 455.75,127.80 456.38,127.44 457.01,132.18 457.64,126.58 458.27,129.02 458.90,128.61 459.53,127.61 460.16,126.31 460.79,127.32 461.41,130.44 462.04,128.22 462.67,127.57 463.30,125.79 463.93,127.94 464.56,130.95 465.19,127.75 465.82,124.80 466.45,126.47 467.07,127.86 467.70,128.12 468.33,126.87 468.96,127.53 469.59,128.47 470.22,126.92 470.85,126.02 471.48,131.98 472.11,131.78 472.74,128.22 473.37,127.38 473.99,131.45 474.62,129.52 475.25,122.35 475.88,127.60 476.51,127.87 477.14,127.91 477.77,127.48 478.40,126.96 479.03,125.18 479.66,126.41 480.28,125.85 480.91,128.41 481.54,127.05 482.17,126.86 482.80,126.85 483.43,128.35 484.06,128.37 484.69,125.64 485.32,128.50 485.94,126.37 486.57,126.57 487.20,127.21 487.83,126.51 488.46,126.77 489.09,125.74 489.72,128.13 490.35,128.33 490.98,127.61 491.61,129.32 492.24,128.55 492.86,131.27 493.49,128.59 494.12,127.08 494.75,125.08 495.38,124.77 496.01,127.59 496.64,127.65 497.27,126.87 497.90,129.26 498.52,125.79 499.15,126.94 499.78,121.00 500.41,127.80 501.04,127.75 501.67,123.18 502.30,131.26 502.93,125.67 503.56,126.87 504.19,126.47 504.81,125.72 505.44,129.13 506.07,126.97 506.70,126.44 507.33,129.04 507.96,127.44 508.59,125.68 509.22,127.52 509.85,125.93 510.48,126.87 511.11,129.13 511.73,130.22 512.36,125.97 512.99,127.38 513.62,130.85 514.25,127.21 514.88,128.21 515.51,128.79 516.14,127.75 516.77,130.80 517.39,129.76 518.02,129.58 518.65,125.72 519.28,127.09 519.91,127.67 520.54,126.51 521.17,128.15 521.80,128.57 522.43,127.51 523.06,125.22 523.68,125.63 524.31,127.15 524.94,127.38 525.57,128.92 526.20,124.60 526.83,125.95 527.46,127.43 528.09,128.51 528.72,127.17 529.35,129.87 529.98,131.25 530.60,124.91 531.23,127.95 531.86,128.04 532.49,127.86 533.12,124.48 533.75,127.97 534.38,128.53 535.01,127.53 535.64,125.44 536.26,126.12 536.89,127.80 537.52,127.76 538.15,129.26 538.78,128.50 539.41,126.97 540.04,128.07 540.67,127.56 541.30,130.63 541.93,127.35 542.56,120.60 543.18,127.52 543.81,125.92 544.44,125.08 545.07,126.61 545.70,126.37 546.33,127.27 546.96,127.66 547.59,128.43 548.22,127.47 548.85,127.22 549.47,127.46 550.10,129.57 550.73,127.83 551.36,126.59 551.99,127.48 552.62,126.85 553.25,127.24 553.88,127.55 554.51,128.59 555.13,127.52 555.76,127.59 556.39,131.46 557.02,132.22 557.65,127.06 558.28,129.21 558.91,124.95 559.54,126.88 560.17,128.12 560.80,126.46 561.42,128.23 562.05,125.23 562.68,127.50 563.31,126.65 563.94,128.44 564.57,129.68 565.20,128.16 565.83,128.16 566.46,127.60 567.09,128.64 567.72,125.23 568.34,126.18 568.97,128.41 569.60,129.50 570.23,125.39 570.86,131.02 571.49,127.05 572.12,128.03 572.75,127.60 573.38,128.08 574.00,125.03 574.63,132.15 575.26,126.36 575.89,126.87 576.52,126.57 577.15,127.44 577.78,134.00 578.41,128.68 579.04,126.87 579.67,126.52 580.29,127.51 580.92,126.63 581.55,127.60 582.18,126.54 582.81,127.21 583.44,126.71 584.07,127.58 584.70,126.90 585.33,128.20 585.96,128.19 586.59,126.70 587.21,127.29 587.84,131.24 588.47,129.44 589.10,128.91 589.73,127.68 590.36,126.37 590.99,127.61 591.62,126.66 592.25,125.89 592.88,127.28 593.50,127.65 594.13,128.47 594.76,124.45 595.39,129.26 596.02,127.08 596.65,127.78 597.28,125.82 597.91,127.13 598.54,128.06 599.16,128.47 599.79,122.09 600.42,125.92 601.05,125.81 601.68,126.76 602.31,127.11 602.94,125.22 603.57,131.56 604.20,126.98 604.83,126.54 605.46,127.52 606.08,125.90 606.71,126.67 607.34,127.01 607.97,127.05 608.60,126.12 609.23,126.09 609.86,129.80 610.49,127.94 611.12,128.42 611.75,130.15 612.37,129.65 613.00,127.76 613.63,126.81 614.26,127.62 614.89,127.78 615.52,128.07 616.15,134.47 616.78,122.54 617.41,126.32 618.03,128.10 618.66,127.53 619.29,125.04 619.92,131.54 620.55,126.58 621.18,128.24 621.81,127.75 622.44,127.75 623.07,128.57 623.70,126.92 624.33,126.87 624.95,126.10 625.58,126.48 626.21,129.58 626.84,127.31 627.47,126.66 628.10,124.44 628.73,122.98 629.36,128.67 629.99,129.20 630.62,127.22 631.24,126.03 631.87,126.45 632.50,126.86 633.13,126.68 633.76,128.56 634.39,127.72 635.02,127.40 635.65,127.23 636.28,127.36 636.90,128.16 637.53,131.84 638.16,126.95 638.79,127.81 639.42,126.02 640.05,126.80 640.68,122.74 641.31,132.81 641.94,126.70 642.57,125.84 643.20,127.51 643.82,127.55 644.45,124.54 645.08,121.89 645.71,126.55 646.34,128.12 646.97,124.06 647.60,129.21 648.23,126.32 648.86,129.11 649.49,126.29 650.11,127.70 650.74,126.32 651.37,125.31 652.00,126.86 652.63,127.90 653.26,130.57 653.89,127.71 654.52,129.71 655.15,130.67 655.77,129.67 656.40,126.98 657.03,128.54 657.66,128.05 658.29,131.00 658.92,136.80 659.55,124.44 660.18,126.18 660.81,123.46 661.44,129.00 662.07,126.32 662.69,129.00 663.32,127.93 663.95,124.83 664.58,126.40 665.21,126.74 665.84,126.42 666.47,127.31 667.10,128.70 667.73,127.67 668.36,126.44 668.98,127.98 669.61,128.16 670.24,125.94 670.87,125.70 671.50,126.85" fill="none" stroke="#D95319" stroke-width="1.1" stroke-linejoin="miter" stroke-miterlimit="2"/><path d="M42.50,67.86 43.13,75.41 43.76,74.13 44.39,71.58 45.02,75.30 45.65,75.85 46.27,73.32 46.90,75.06 47.53,71.23 48.16,74.84 48.79,78.43 49.42,76.77 50.05,75.88 50.68,74.33 51.31,74.07 51.94,75.04 52.56,66.00 53.19,82.68 53.82,73.50 54.45,74.15 55.08,74.27 55.71,74.39 56.34,75.87 56.97,75.33 57.60,72.95 58.23,70.94 58.85,76.46 59.48,74.08 60.11,74.69 60.74,75.01 61.37,77.02 62.00,73.61 62.63,74.24 63.26,75.58 63.89,74.56 64.52,74.63 65.14,73.86 65.77,70.35 66.40,74.34 67.03,74.48 67.66,73.47 68.29,77.34 68.92,75.01 69.55,66.03 70.18,77.68 70.81,75.83 71.43,75.06 72.06,73.73 72.69,74.93 73.32,74.96 73.95,78.51 74.58,77.15 75.21,75.07 75.84,86.00 76.47,74.31 77.09,76.37 77.72,82.90 78.35,74.44 78.98,73.21 79.61,74.55 80.24,74.55 80.87,77.39 81.50,73.41 82.13,75.01 82.76,73.05 83.38,74.09 84.01,74.77 84.64,74.05 85.27,78.82 85.90,67.20 86.53,84.00 87.16,74.25 87.79,72.38 88.42,76.79 89.05,67.00 89.67,75.38 90.30,72.26 90.93,72.96 91.56,74.15 92.19,73.54 92.82,77.07 93.45,83.15 94.08,72.83 94.71,76.15 95.34,75.32 95.97,67.00 96.59,76.36 97.22,74.47 97.85,75.00 98.48,75.13 99.11,75.47 99.74,86.00 100.37,74.40 101.00,74.99 101.63,75.24 102.25,73.46 102.88,74.08 103.51,76.25 104.14,75.10 104.77,67.00 105.40,67.37 106.03,70.77 106.66,69.09 107.29,75.31 107.92,75.85 108.55,80.09 109.17,74.06 109.80,81.07 110.43,76.05 111.06,75.41 111.69,76.24 112.32,74.53 112.95,81.18 113.58,76.29 114.21,74.64 114.83,75.64 115.46,73.85 116.09,77.15 116.72,71.56 117.35,75.23 117.98,76.87 118.61,75.28 119.24,70.52 119.87,74.55 120.50,82.97 121.12,75.64 121.75,73.20 122.38,76.09 123.01,86.00 123.64,69.82 124.27,73.13 124.90,74.37 125.53,76.48 126.16,83.46 126.79,74.25 127.42,73.77 128.04,74.41 128.67,74.77 129.30,73.75 129.93,73.24 130.56,73.16 131.19,80.07 131.82,88.00 132.45,73.82 133.08,73.71 133.70,70.73 134.33,74.27 134.96,74.93 135.59,73.78 136.22,77.47 136.85,74.51 137.48,72.74 138.11,81.28 138.74,73.42 139.37,74.20 140.00,75.93 140.62,75.39 141.25,71.09 141.88,72.38 142.51,74.34 143.14,74.72 143.77,74.30 144.40,71.74 145.03,74.58 145.66,75.75 146.28,86.00 146.91,72.18 147.54,77.64 148.17,73.92 148.80,71.38 149.43,74.43 150.06,74.60 150.69,75.30 151.32,76.53 151.95,72.95 152.57,78.72 153.20,73.88 153.83,75.29 154.46,91.00 155.09,78.99 155.72,75.18 156.35,76.60 156.98,72.76 157.61,74.48 158.24,75.60 158.87,73.37 159.49,71.42 160.12,73.93 160.75,72.98 161.38,78.53 162.01,75.75 162.64,76.81 163.27,75.28 163.90,71.91 164.53,73.93 165.16,73.64 165.78,75.35 166.41,78.37 167.04,76.07 167.67,74.65 168.30,76.01 168.93,76.59 169.56,73.73 170.19,78.42 170.82,73.87 171.44,74.23 172.07,73.46 172.70,75.84 173.33,81.20 173.96,78.99 174.59,73.66 175.22,73.89 175.85,75.81 176.48,86.00 177.11,77.80 177.74,73.26 178.36,72.56 178.99,74.00 179.62,74.15 180.25,71.05 180.88,72.68 181.51,75.18 182.14,77.88 182.77,88.00 183.40,73.51 184.03,76.33 184.65,81.98 185.28,74.72 185.91,70.56 186.54,66.16 187.17,88.00 187.80,80.10 188.43,73.90 189.06,79.85 189.69,74.70 190.31,74.64 190.94,74.08 191.57,72.99 192.20,72.50 192.83,75.40 193.46,69.27 194.09,88.00 194.72,83.23 195.35,70.77 195.98,76.04 196.60,75.67 197.23,86.00 197.86,72.82 198.49,66.76 199.12,72.47 199.75,74.01 200.38,69.68 201.01,73.90 201.64,71.86 202.27,71.52 202.90,79.35 203.52,74.76 204.15,72.69 204.78,74.93 205.41,74.22 206.04,75.63 206.67,77.96 207.30,73.08 207.93,77.17 208.56,72.32 209.19,73.15 209.81,74.35 210.44,74.56 211.07,77.40 211.70,73.56 212.33,73.80 212.96,70.52 213.59,72.93 214.22,82.78 214.85,72.49 215.47,73.79 216.10,75.26 216.73,84.00 217.36,72.79 217.99,75.01 218.62,73.91 219.25,74.12 219.88,74.22 220.51,73.90 221.14,74.94 221.77,77.56 222.39,75.86 223.02,72.17 223.65,71.76 224.28,72.40 224.91,73.72 225.54,75.41 226.17,83.62 226.80,75.32 227.43,74.77 228.06,73.64 228.68,74.45 229.31,73.95 229.94,68.83 230.57,74.90 231.20,70.25 231.83,80.87 232.46,72.79 233.09,73.88 233.72,74.51 234.34,80.13 234.97,65.50 235.60,75.38 236.23,73.68 236.86,75.96 237.49,75.40 238.12,75.77 238.75,80.27 239.38,75.97 240.01,69.01 240.63,75.19 241.26,73.08 241.89,74.08 242.52,73.00 243.15,76.23 243.78,74.51 244.41,73.44 245.04,76.97 245.67,74.71 246.30,77.23 246.93,72.55 247.55,73.31 248.18,74.13 248.81,74.43 249.44,77.97 250.07,74.33 250.70,74.71 251.33,74.08 251.96,73.77 252.59,73.71 253.22,72.80 253.84,75.12 254.47,75.74 255.10,72.68 255.73,75.99 256.36,71.20 256.99,75.98 257.62,73.36 258.25,71.89 258.88,78.51 259.50,75.01 260.13,74.61 260.76,69.97 261.39,73.73 262.02,71.96 262.65,73.67 263.28,73.38 263.91,77.20 264.54,72.93 265.17,73.02 265.79,76.39 266.42,74.92 267.05,74.29 267.68,73.11 268.31,75.28 268.94,77.17 269.57,75.84 270.20,74.15 270.83,77.08 271.46,73.30 272.09,75.53 272.71,77.82 273.34,72.14 273.97,72.50 274.60,75.88 275.23,79.72 275.86,73.25 276.49,73.38 277.12,78.63 277.75,73.75 278.38,73.76 279.00,72.90 279.63,74.82 280.26,74.23 280.89,74.77 281.52,75.52 282.15,75.37 282.78,74.80 283.41,75.00 284.04,74.05 284.66,74.80 285.29,70.26 285.92,72.91 286.55,74.86 287.18,73.70 287.81,79.01 288.44,84.00 289.07,74.47 289.70,76.16 290.33,74.57 290.96,72.43 291.58,71.54 292.21,74.59 292.84,70.57 293.47,74.76 294.10,74.13 294.73,74.05 295.36,76.33 295.99,77.66 296.62,73.86 297.25,75.23 297.87,75.11 298.50,72.44 299.13,73.83 299.76,73.38 300.39,76.90 301.02,74.69 301.65,78.87 302.28,74.14 302.91,73.05 303.54,73.66 304.16,74.30 304.79,69.90 305.42,74.98 306.05,71.59 306.68,79.02 307.31,74.77 307.94,74.43 308.57,78.52 309.20,76.96 309.82,74.25 310.45,75.01 311.08,74.18 311.71,73.98 312.34,73.50 312.97,76.50 313.60,75.19 314.23,72.78 314.86,85.00 315.49,76.17 316.12,72.18 316.74,70.44 317.37,73.96 318.00,76.02 318.63,73.72 319.26,74.05 319.89,73.98 320.52,75.19 321.15,77.32 321.78,74.51 322.41,74.45 323.03,74.28 323.66,73.56 324.29,74.02 324.92,75.86 325.55,75.17 326.18,70.50 326.81,75.21 327.44,74.16 328.07,69.78 328.69,87.70 329.32,74.34 329.95,73.93 330.58,74.76 331.21,75.36 331.84,75.97 332.47,74.79 333.10,75.50 333.73,75.70 334.36,74.32 334.99,74.63 335.61,74.77 336.24,77.91 336.87,73.12 337.50,74.60 338.13,74.70 338.76,73.72 339.39,74.32 340.02,73.62 340.65,74.59 341.27,70.50 341.90,72.09 342.53,73.97 343.16,74.82 343.79,71.27 344.42,72.11 345.05,74.86 345.68,73.04 346.31,77.41 346.94,75.19 347.56,76.76 348.19,76.90 348.82,74.73 349.45,74.58 350.08,72.66 350.71,72.61 351.34,76.87 351.97,75.20 352.60,74.80 353.23,74.26 353.86,74.33 354.48,74.65 355.11,73.24 355.74,72.84 356.37,74.24 357.00,72.20 357.63,75.29 358.26,74.91 358.89,73.66 359.52,73.36 360.14,75.62 360.77,74.10 361.40,84.00 362.03,73.61 362.66,74.80 363.29,73.64 363.92,73.08 364.55,77.54 365.18,74.20 365.81,70.82 366.44,74.39 367.06,74.65 367.69,73.50 368.32,71.33 368.95,75.68 369.58,71.53 370.21,72.38 370.84,73.66 371.47,75.95 372.10,75.48 372.73,73.01 373.35,73.65 373.98,76.48 374.61,73.69 375.24,67.49 375.87,69.51 376.50,75.08 377.13,73.26 377.76,71.23 378.39,74.23 379.01,71.23 379.64,75.01 380.27,72.75 380.90,79.44 381.53,79.49 382.16,74.71 382.79,75.19 383.42,73.90 384.05,69.00 384.68,74.62 385.31,71.49 385.93,74.25 386.56,73.29 387.19,74.87 387.82,75.37 388.45,78.59 389.08,80.86 389.71,73.68 390.34,76.69 390.97,75.25 391.60,75.72 392.22,75.30 392.85,67.00 393.48,74.74 394.11,73.46 394.74,73.18 395.37,75.25 396.00,75.74 396.63,80.53 397.26,75.33 397.88,73.32 398.51,74.55 399.14,76.30 399.77,74.76 400.40,72.44 401.03,75.39 401.66,76.11 402.29,82.14 402.92,76.63 403.55,75.06 404.18,78.43 404.80,71.44 405.43,72.26 406.06,74.20 406.69,72.38 407.32,75.05 407.95,75.25 408.58,75.20 409.21,75.07 409.84,73.99 410.46,78.14 411.09,72.80 411.72,72.01 412.35,73.44 412.98,71.77 413.61,72.01 414.24,73.87 414.87,73.49 415.50,73.69 416.13,70.68 416.75,67.93 417.38,71.61 418.01,83.00 418.64,72.71 419.27,70.23 419.90,73.70 420.53,75.17 421.16,83.13 421.79,75.03 422.42,74.94 423.05,76.02 423.67,74.64 424.30,74.55 424.93,73.29 425.56,71.85 426.19,76.05 426.82,73.58 427.45,72.81 428.08,70.92 428.71,74.37 429.33,73.86 429.96,74.84 430.59,75.24 431.22,75.19 431.85,69.10 432.48,71.03 433.11,75.26 433.74,72.74 434.37,77.00 435.00,73.07 435.62,81.76 436.25,72.83 436.88,74.56 437.51,78.70 438.14,76.20 438.77,74.38 439.40,75.73 440.03,73.12 440.66,74.05 441.29,74.51 441.92,76.31 442.54,74.01 443.17,77.51 443.80,74.99 444.43,70.71 445.06,70.95 445.69,74.99 446.32,74.51 446.95,75.73 447.58,73.93 448.20,73.22 448.83,71.11 449.46,73.36 450.09,72.14 450.72,74.32 451.35,78.72 451.98,75.32 452.61,73.65 453.24,77.21 453.87,74.38 454.50,74.50 455.12,79.38 455.75,69.09 456.38,74.96 457.01,72.75 457.64,74.37 458.27,72.60 458.90,76.20 459.53,72.37 460.16,71.99 460.79,71.53 461.41,74.69 462.04,71.97 462.67,74.09 463.30,75.00 463.93,75.17 464.56,74.61 465.19,74.07 465.82,73.57 466.45,74.58 467.07,72.02 467.70,76.27 468.33,77.69 468.96,72.52 469.59,77.83 470.22,73.99 470.85,74.10 471.48,76.24 472.11,75.39 472.74,75.09 473.37,75.37 473.99,87.70 474.62,74.20 475.25,74.78 475.88,75.32 476.51,71.11 477.14,73.90 477.77,80.56 478.40,80.74 479.03,74.43 479.66,73.67 480.28,73.39 480.91,72.54 481.54,73.00 482.17,73.97 482.80,73.95 483.43,72.60 484.06,71.95 484.69,73.38 485.32,72.31 485.94,76.28 486.57,75.65 487.20,72.69 487.83,74.24 488.46,75.52 489.09,75.60 489.72,81.21 490.35,75.63 490.98,80.35 491.61,74.17 492.24,75.47 492.86,73.79 493.49,85.00 494.12,74.57 494.75,66.70 495.38,75.29 496.01,75.65 496.64,75.05 497.27,75.39 497.90,74.01 498.52,75.53 499.15,73.95 499.78,73.99 500.41,73.98 501.04,74.10 501.67,72.12 502.30,73.18 502.93,74.63 503.56,73.35 504.19,73.85 504.81,76.40 505.44,74.62 506.07,73.88 506.70,73.45 507.33,79.02 507.96,74.20 508.59,75.70 509.22,88.00 509.85,73.52 510.48,75.37 511.11,78.79 511.73,74.32 512.36,79.98 512.99,74.83 513.62,74.95 514.25,75.27 514.88,75.22 515.51,75.33 516.14,73.82 516.77,71.27 517.39,74.22 518.02,74.40 518.65,73.59 519.28,73.18 519.91,74.58 520.54,73.48 521.17,78.52 521.80,74.13 522.43,72.61 523.06,74.14 523.68,74.43 524.31,74.85 524.94,78.89 525.57,73.77 526.20,77.30 526.83,73.98 527.46,75.20 528.09,71.90 528.72,79.83 529.35,73.65 529.98,73.11 530.60,72.15 531.23,72.73 531.86,87.00 532.49,72.75 533.12,74.32 533.75,75.64 534.38,74.55 535.01,75.60 535.64,73.92 536.26,73.49 536.89,73.30 537.52,68.80 538.15,74.69 538.78,79.60 539.41,74.20 540.04,77.72 540.67,74.59 541.30,75.83 541.93,76.14 542.56,73.95 543.18,73.19 543.81,72.94 544.44,76.21 545.07,82.15 545.70,73.86 546.33,74.05 546.96,68.44 547.59,72.58 548.22,68.52 548.85,74.48 549.47,74.93 550.10,72.30 550.73,82.75 551.36,70.93 551.99,73.56 552.62,73.88 553.25,73.63 553.88,74.71 554.51,74.48 555.13,73.16 555.76,73.65 556.39,81.96 557.02,72.05 557.65,73.61 558.28,67.00 558.91,75.96 559.54,76.07 560.17,74.44 560.80,75.47 561.42,74.34 562.05,73.63 562.68,76.15 563.31,73.67 563.94,72.98 564.57,69.09 565.20,71.84 565.83,82.01 566.46,79.16 567.09,74.93 567.72,73.17 568.34,79.84 568.97,73.66 569.60,71.30 570.23,74.41 570.86,73.71 571.49,74.95 572.12,73.85 572.75,73.13 573.38,71.74 574.00,76.21 574.63,73.27 575.26,72.93 575.89,74.10 576.52,73.75 577.15,68.23 577.78,89.70 578.41,76.24 579.04,73.25 579.67,72.83 580.29,76.84 580.92,78.49 581.55,74.18 582.18,75.96 582.81,74.74 583.44,75.28 584.07,72.07 584.70,74.21 585.33,76.09 585.96,75.26 586.59,74.96 587.21,74.12 587.84,77.90 588.47,69.91 589.10,66.00 589.73,76.97 590.36,73.17 590.99,72.38 591.62,74.96 592.25,74.28 592.88,74.81 593.50,74.38 594.13,77.73 594.76,74.92 595.39,75.61 596.02,72.26 596.65,73.83 597.28,77.40 597.91,74.37 598.54,74.85 599.16,76.16 599.79,75.90 600.42,77.07 601.05,69.95 601.68,73.48 602.31,77.53 602.94,73.99 603.57,74.08 604.20,74.41 604.83,70.97 605.46,74.89 606.08,74.80 606.71,70.72 607.34,74.45 607.97,73.14 608.60,72.05 609.23,78.55 609.86,76.38 610.49,87.00 611.12,69.91 611.75,73.18 612.37,69.54 613.00,75.59 613.63,71.07 614.26,75.85 614.89,73.71 615.52,75.69 616.15,74.48 616.78,74.81 617.41,74.34 618.03,74.93 618.66,74.12 619.29,74.81 619.92,73.68 620.55,79.29 621.18,71.97 621.81,73.69 622.44,76.08 623.07,73.59 623.70,74.25 624.33,76.56 624.95,84.00 625.58,75.47 626.21,79.92 626.84,74.23 627.47,77.40 628.10,71.24 628.73,75.99 629.36,75.85 629.99,73.41 630.62,72.62 631.24,74.46 631.87,74.84 632.50,75.46 633.13,73.32 633.76,74.13 634.39,73.89 635.02,78.10 635.65,74.50 636.28,75.12 636.90,74.99 637.53,75.20 638.16,79.12 638.79,75.21 639.42,72.15 640.05,74.55 640.68,73.79 641.31,74.63 641.94,74.24 642.57,72.38 643.20,74.18 643.82,74.74 644.45,75.03 645.08,74.03 645.71,75.21 646.34,72.36 646.97,73.93 647.60,73.81 648.23,73.43 648.86,74.94 649.49,73.72 650.11,73.38 650.74,76.64 651.37,79.13 652.00,74.09 652.63,70.79 653.26,77.97 653.89,77.62 654.52,71.56 655.15,74.55 655.77,75.32 656.40,72.69 657.03,73.29 657.66,74.90 658.29,75.50 658.92,77.52 659.55,74.41 660.18,75.07 660.81,74.95 661.44,73.13 662.07,77.44 662.69,74.34 663.32,78.36 663.95,70.66 664.58,76.08 665.21,75.43 665.84,74.06 666.47,68.88 667.10,76.43 667.73,74.23 668.36,74.01 668.98,72.72 669.61,74.19 670.24,69.58 670.87,75.39 671.50,74.18" fill="none" stroke="#0072BD" stroke-width="1.05" stroke-linejoin="miter" stroke-miterlimit="2"/>
</g>
<line x1="42.5" y1="6.5" x2="671.5" y2="6.5" stroke="#808080" stroke-width="1.2"/>
<path d="M42.5,6.5V412.5H671.5V6.5M105.40,412.50V407.10M105.40,6.50V11.90M168.30,412.50V407.10M168.30,6.50V11.90M231.20,412.50V407.10M231.20,6.50V11.90M294.10,412.50V407.10M294.10,6.50V11.90M357.00,412.50V407.10M357.00,6.50V11.90M419.90,412.50V407.10M419.90,6.50V11.90M482.80,412.50V407.10M482.80,6.50V11.90M545.70,412.50V407.10M545.70,6.50V11.90M608.60,412.50V407.10M608.60,6.50V11.90M42.50,344.83H47.90M671.50,344.83H666.10M42.50,277.17H47.90M671.50,277.17H666.10M42.50,209.50H47.90M671.50,209.50H666.10M42.50,141.83H47.90M671.50,141.83H666.10M42.50,74.17H47.90M671.50,74.17H666.10" stroke="#303030" stroke-width="1.3" fill="none" stroke-linejoin="miter"/>
<rect x="277.2" y="13.4" width="389.30" height="23.10" fill="#fff" stroke="#444" stroke-width="1"/>
<line x1="280.80" y1="24.5" x2="322.40" y2="24.5" stroke="#2a2a2a" stroke-width="2.0"/><line x1="345.44" y1="24.5" x2="387.04" y2="24.5" stroke="#77AC30" stroke-width="1.6"/><line x1="410.08" y1="24.5" x2="451.68" y2="24.5" stroke="#7E2F8E" stroke-width="0.5"/><line x1="474.72" y1="24.5" x2="516.32" y2="24.5" stroke="#EDB120" stroke-width="0.5"/><line x1="539.36" y1="24.5" x2="580.96" y2="24.5" stroke="#D95319" stroke-width="0.5"/><line x1="604.00" y1="24.5" x2="645.60" y2="24.5" stroke="#0072BD" stroke-width="0.5"/>
</g>
<g filter="url(#bt)">
<text x="326.30" y="26.8" class="it">f</text><text x="332.30" y="32.6" class="sub">4</text><text x="390.74" y="26.8" class="it">f</text><text x="396.74" y="32.6" class="sub">5</text><text x="455.18" y="26.8" class="it">f</text><text x="461.18" y="32.6" class="sub">6</text><text x="519.62" y="26.8" class="it">f</text><text x="525.62" y="32.6" class="sub">7</text><text x="584.06" y="26.8" class="it">f</text><text x="590.06" y="32.6" class="sub">8</text><text x="648.50" y="26.8" class="it">f</text><text x="654.50" y="32.6" class="sub">9</text>
<text x="42.50" y="431" text-anchor="middle">0</text><text x="105.40" y="431" text-anchor="middle">100</text><text x="168.30" y="431" text-anchor="middle">200</text><text x="231.20" y="431" text-anchor="middle">300</text><text x="294.10" y="431" text-anchor="middle">400</text><text x="357.00" y="431" text-anchor="middle">500</text><text x="419.90" y="431" text-anchor="middle">600</text><text x="482.80" y="431" text-anchor="middle">700</text><text x="545.70" y="431" text-anchor="middle">800</text><text x="608.60" y="431" text-anchor="middle">900</text><text x="671.50" y="431" text-anchor="middle">1000</text>
<text x="36.8" y="417.40" text-anchor="end">1</text><text x="36.8" y="349.73" text-anchor="end">1.5</text><text x="36.8" y="282.07" text-anchor="end">2</text><text x="36.8" y="214.40" text-anchor="end">2.5</text><text x="36.8" y="146.73" text-anchor="end">3</text><text x="36.8" y="79.07" text-anchor="end">3.5</text><text x="36.8" y="11.40" text-anchor="end">4</text>
<text class="b" x="357" y="449" text-anchor="middle">Time(min)</text>
<text class="b" transform="translate(11.6,208.5) rotate(-90)" x="0" y="0" text-anchor="middle">Frequency(Hz)</text>
</g>
</svg>
</body></html>
